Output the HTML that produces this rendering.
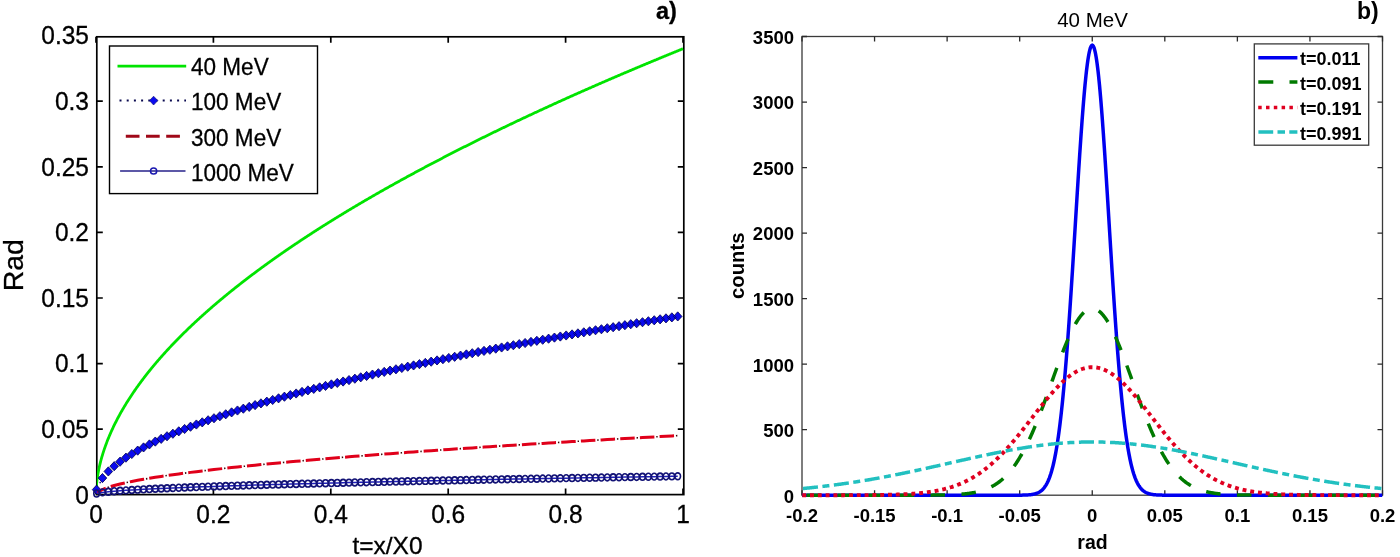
<!DOCTYPE html><html><head><meta charset="utf-8"><style>html,body{margin:0;padding:0;background:#fff;}svg{display:block;will-change:transform;}text{font-family:"Liberation Sans",sans-serif;}</style></head><body>
<svg width="1400" height="557" viewBox="0 0 1400 557">
<rect width="1400" height="557" fill="#fff"/>
<defs><clipPath id="cl"><rect x="96.8" y="36.8" width="587" height="457.8"/></clipPath>
<clipPath id="cr"><rect x="802" y="36.5" width="580.5" height="461.7"/></clipPath></defs>
<rect x="96.8" y="36.8" width="587" height="457.8" fill="none" stroke="#000" stroke-width="1.7"/>
<path d="M96,494.6v-6M96,36.8v6M213.4,494.6v-6M213.4,36.8v6M330.8,494.6v-6M330.8,36.8v6M448.2,494.6v-6M448.2,36.8v6M565.6,494.6v-6M565.6,36.8v6M683,494.6v-6M683,36.8v6M96.8,429.2h6M683.8,429.2h-6M96.8,363.6h6M683.8,363.6h-6M96.8,298h6M683.8,298h-6M96.8,232.4h6M683.8,232.4h-6M96.8,166.8h6M683.8,166.8h-6M96.8,101.2h6M683.8,101.2h-6" stroke="#000" stroke-width="1.7" fill="none"/>
<g clip-path="url(#cl)">
<path d="M96,494.8 L96.49,484.94 L96.98,480.43 L97.47,476.91 L97.96,473.89 L98.45,471.21 L98.94,468.77 L99.42,466.51 L99.91,464.4 L100.4,462.41 L100.89,460.51 L101.38,458.7 L101.87,456.97 L102.36,455.3 L102.85,453.7 L103.34,452.14 L103.83,450.63 L104.32,449.16 L104.81,447.74 L105.29,446.35 L105.78,444.99 L106.27,443.67 L106.76,442.37 L107.25,441.1 L107.74,439.86 L108.23,438.64 L108.72,437.44 L109.21,436.27 L109.7,435.11 L110.19,433.97 L110.67,432.85 L111.16,431.75 L111.65,430.67 L112.14,429.6 L112.63,428.54 L113.12,427.5 L113.61,426.48 L114.1,425.46 L114.59,424.46 L115.08,423.48 L115.57,422.5 L116.06,421.53 L116.55,420.58 L117.03,419.63 L117.52,418.7 L118.01,417.78 L118.5,416.86 L118.99,415.96 L119.48,415.06 L119.97,414.17 L120.46,413.29 L120.95,412.42 L121.44,411.56 L121.93,410.7 L122.41,409.86 L122.9,409.02 L123.39,408.18 L123.88,407.35 L124.37,406.53 L124.86,405.72 L125.35,404.91 L125.84,404.11 L126.33,403.32 L126.82,402.53 L127.31,401.75 L127.8,400.97 L128.28,400.2 L128.77,399.43 L129.26,398.67 L129.75,397.92 L130.24,397.16 L130.73,396.42 L131.22,395.68 L131.71,394.94 L132.2,394.21 L132.69,393.48 L133.18,392.76 L133.67,392.04 L134.16,391.33 L134.64,390.62 L135.13,389.92 L135.62,389.21 L136.11,388.52 L136.6,387.82 L137.09,387.14 L137.58,386.45 L138.07,385.77 L138.56,385.09 L139.05,384.42 L139.54,383.75 L140.03,383.08 L140.51,382.41 L141,381.75 L141.49,381.1 L141.98,380.44 L142.47,379.79 L142.96,379.15 L143.45,378.5 L143.94,377.86 L144.43,377.22 L144.92,376.59 L145.41,375.96 L145.9,375.33 L146.38,374.7 L146.87,374.08 L147.36,373.46 L147.85,372.84 L148.34,372.22 L148.83,371.61 L149.32,371 L149.81,370.39 L150.3,369.79 L150.79,369.19 L151.28,368.59 L151.76,367.99 L152.25,367.39 L152.74,366.8 L153.23,366.21 L153.72,365.62 L154.21,365.04 L154.7,364.46 L155.19,363.88 L155.68,363.3 L156.17,362.72 L156.66,362.15 L157.15,361.57 L157.63,361 L158.12,360.44 L158.61,359.87 L159.1,359.31 L159.59,358.75 L160.08,358.19 L160.57,357.63 L161.06,357.07 L161.55,356.52 L162.04,355.97 L162.53,355.42 L163.02,354.87 L163.5,354.32 L163.99,353.78 L164.48,353.24 L164.97,352.7 L165.46,352.16 L165.95,351.62 L166.44,351.09 L166.93,350.55 L167.42,350.02 L167.91,349.49 L168.4,348.96 L168.89,348.43 L169.38,347.91 L169.86,347.39 L170.35,346.86 L170.84,346.34 L171.33,345.82 L171.82,345.31 L172.31,344.79 L172.8,344.28 L173.29,343.77 L173.78,343.25 L174.27,342.75 L174.76,342.24 L175.25,341.73 L175.73,341.23 L176.22,340.72 L176.71,340.22 L177.2,339.72 L177.69,339.22 L178.18,338.72 L178.67,338.22 L179.16,337.73 L179.65,337.24 L180.14,336.74 L180.63,336.25 L181.12,335.76 L181.6,335.27 L182.09,334.79 L182.58,334.3 L183.07,333.82 L183.56,333.33 L184.05,332.85 L184.54,332.37 L185.03,331.89 L185.52,331.41 L186.01,330.93 L186.5,330.46 L186.99,329.98 L187.47,329.51 L187.96,329.04 L188.45,328.57 L188.94,328.1 L189.43,327.63 L189.92,327.16 L190.41,326.69 L190.9,326.23 L191.39,325.76 L191.88,325.3 L192.37,324.84 L192.86,324.38 L193.34,323.92 L193.83,323.46 L194.32,323 L194.81,322.54 L195.3,322.09 L195.79,321.63 L196.28,321.18 L196.77,320.73 L197.26,320.27 L197.75,319.82 L198.24,319.37 L198.72,318.92 L199.21,318.48 L199.7,318.03 L200.19,317.58 L200.68,317.14 L201.17,316.7 L201.66,316.25 L202.15,315.81 L202.64,315.37 L203.13,314.93 L203.62,314.49 L204.11,314.05 L204.59,313.62 L205.08,313.18 L205.57,312.75 L206.06,312.31 L206.55,311.88 L207.04,311.45 L207.53,311.01 L208.02,310.58 L208.51,310.15 L209,309.72 L209.49,309.3 L209.98,308.87 L210.47,308.44 L210.95,308.02 L211.44,307.59 L211.93,307.17 L212.42,306.75 L212.91,306.32 L213.4,305.9 L213.89,305.48 L214.38,305.06 L214.87,304.64 L215.36,304.22 L215.85,303.81 L216.33,303.39 L216.82,302.98 L217.31,302.56 L217.8,302.15 L218.29,301.73 L218.78,301.32 L219.27,300.91 L219.76,300.5 L220.25,300.09 L220.74,299.68 L221.23,299.27 L221.72,298.86 L222.2,298.45 L222.69,298.05 L223.18,297.64 L223.67,297.24 L224.16,296.83 L224.65,296.43 L225.14,296.02 L225.63,295.62 L226.12,295.22 L226.61,294.82 L227.1,294.42 L227.59,294.02 L228.08,293.62 L228.56,293.22 L229.05,292.83 L229.54,292.43 L230.03,292.03 L230.52,291.64 L231.01,291.24 L231.5,290.85 L231.99,290.46 L232.48,290.06 L232.97,289.67 L233.46,289.28 L233.94,288.89 L234.43,288.5 L234.92,288.11 L235.41,287.72 L235.9,287.33 L236.39,286.95 L236.88,286.56 L237.37,286.17 L237.86,285.79 L238.35,285.4 L238.84,285.02 L239.33,284.63 L239.81,284.25 L240.3,283.87 L240.79,283.49 L241.28,283.1 L241.77,282.72 L242.26,282.34 L242.75,281.96 L243.24,281.58 L243.73,281.21 L244.22,280.83 L244.71,280.45 L245.2,280.07 L245.69,279.7 L246.17,279.32 L246.66,278.95 L247.15,278.57 L247.64,278.2 L248.13,277.83 L248.62,277.45 L249.11,277.08 L249.6,276.71 L250.09,276.34 L250.58,275.97 L251.07,275.6 L251.56,275.23 L252.04,274.86 L252.53,274.49 L253.02,274.13 L253.51,273.76 L254,273.39 L254.49,273.03 L254.98,272.66 L255.47,272.29 L255.96,271.93 L256.45,271.57 L256.94,271.2 L257.43,270.84 L257.91,270.48 L258.4,270.12 L258.89,269.75 L259.38,269.39 L259.87,269.03 L260.36,268.67 L260.85,268.31 L261.34,267.95 L261.83,267.6 L262.32,267.24 L262.81,266.88 L263.29,266.52 L263.78,266.17 L264.27,265.81 L264.76,265.46 L265.25,265.1 L265.74,264.75 L266.23,264.39 L266.72,264.04 L267.21,263.68 L267.7,263.33 L268.19,262.98 L268.68,262.63 L269.16,262.28 L269.65,261.93 L270.14,261.58 L270.63,261.23 L271.12,260.88 L271.61,260.53 L272.1,260.18 L272.59,259.83 L273.08,259.48 L273.57,259.14 L274.06,258.79 L274.55,258.44 L275.03,258.1 L275.52,257.75 L276.01,257.41 L276.5,257.06 L276.99,256.72 L277.48,256.38 L277.97,256.03 L278.46,255.69 L278.95,255.35 L279.44,255.01 L279.93,254.66 L280.42,254.32 L280.9,253.98 L281.39,253.64 L281.88,253.3 L282.37,252.96 L282.86,252.62 L283.35,252.29 L283.84,251.95 L284.33,251.61 L284.82,251.27 L285.31,250.94 L285.8,250.6 L286.29,250.26 L286.77,249.93 L287.26,249.59 L287.75,249.26 L288.24,248.92 L288.73,248.59 L289.22,248.26 L289.71,247.92 L290.2,247.59 L290.69,247.26 L291.18,246.92 L291.67,246.59 L292.16,246.26 L292.64,245.93 L293.13,245.6 L293.62,245.27 L294.11,244.94 L294.6,244.61 L295.09,244.28 L295.58,243.95 L296.07,243.62 L296.56,243.3 L297.05,242.97 L297.54,242.64 L298.03,242.32 L298.51,241.99 L299,241.66 L299.49,241.34 L299.98,241.01 L300.47,240.69 L300.96,240.36 L301.45,240.04 L301.94,239.71 L302.43,239.39 L302.92,239.07 L303.41,238.75 L303.9,238.42 L304.38,238.1 L304.87,237.78 L305.36,237.46 L305.85,237.14 L306.34,236.82 L306.83,236.5 L307.32,236.18 L307.81,235.86 L308.3,235.54 L308.79,235.22 L309.28,234.9 L309.77,234.58 L310.25,234.26 L310.74,233.95 L311.23,233.63 L311.72,233.31 L312.21,232.99 L312.7,232.68 L313.19,232.36 L313.68,232.05 L314.17,231.73 L314.66,231.42 L315.15,231.1 L315.64,230.79 L316.12,230.47 L316.61,230.16 L317.1,229.85 L317.59,229.53 L318.08,229.22 L318.57,228.91 L319.06,228.6 L319.55,228.29 L320.04,227.98 L320.53,227.66 L321.02,227.35 L321.51,227.04 L322,226.73 L322.48,226.42 L322.97,226.11 L323.46,225.8 L323.95,225.5 L324.44,225.19 L324.93,224.88 L325.42,224.57 L325.91,224.26 L326.4,223.96 L326.89,223.65 L327.38,223.34 L327.87,223.04 L328.35,222.73 L328.84,222.42 L329.33,222.12 L329.82,221.81 L330.31,221.51 L330.8,221.21 L331.29,220.9 L331.78,220.6 L332.27,220.29 L332.76,219.99 L333.25,219.69 L333.74,219.38 L334.22,219.08 L334.71,218.78 L335.2,218.48 L335.69,218.18 L336.18,217.87 L336.67,217.57 L337.16,217.27 L337.65,216.97 L338.14,216.67 L338.63,216.37 L339.12,216.07 L339.61,215.77 L340.09,215.47 L340.58,215.18 L341.07,214.88 L341.56,214.58 L342.05,214.28 L342.54,213.98 L343.03,213.69 L343.52,213.39 L344.01,213.09 L344.5,212.8 L344.99,212.5 L345.48,212.2 L345.96,211.91 L346.45,211.61 L346.94,211.32 L347.43,211.02 L347.92,210.73 L348.41,210.43 L348.9,210.14 L349.39,209.84 L349.88,209.55 L350.37,209.26 L350.86,208.96 L351.35,208.67 L351.83,208.38 L352.32,208.09 L352.81,207.8 L353.3,207.5 L353.79,207.21 L354.28,206.92 L354.77,206.63 L355.26,206.34 L355.75,206.05 L356.24,205.76 L356.73,205.47 L357.22,205.18 L357.7,204.89 L358.19,204.6 L358.68,204.31 L359.17,204.02 L359.66,203.73 L360.15,203.45 L360.64,203.16 L361.13,202.87 L361.62,202.58 L362.11,202.3 L362.6,202.01 L363.09,201.72 L363.57,201.44 L364.06,201.15 L364.55,200.86 L365.04,200.58 L365.53,200.29 L366.02,200.01 L366.51,199.72 L367,199.44 L367.49,199.15 L367.98,198.87 L368.47,198.58 L368.96,198.3 L369.44,198.02 L369.93,197.73 L370.42,197.45 L370.91,197.17 L371.4,196.88 L371.89,196.6 L372.38,196.32 L372.87,196.04 L373.36,195.76 L373.85,195.48 L374.34,195.19 L374.82,194.91 L375.31,194.63 L375.8,194.35 L376.29,194.07 L376.78,193.79 L377.27,193.51 L377.76,193.23 L378.25,192.95 L378.74,192.67 L379.23,192.39 L379.72,192.12 L380.21,191.84 L380.69,191.56 L381.18,191.28 L381.67,191 L382.16,190.73 L382.65,190.45 L383.14,190.17 L383.63,189.89 L384.12,189.62 L384.61,189.34 L385.1,189.07 L385.59,188.79 L386.08,188.51 L386.56,188.24 L387.05,187.96 L387.54,187.69 L388.03,187.41 L388.52,187.14 L389.01,186.86 L389.5,186.59 L389.99,186.31 L390.48,186.04 L390.97,185.77 L391.46,185.49 L391.95,185.22 L392.44,184.95 L392.92,184.67 L393.41,184.4 L393.9,184.13 L394.39,183.86 L394.88,183.59 L395.37,183.31 L395.86,183.04 L396.35,182.77 L396.84,182.5 L397.33,182.23 L397.82,181.96 L398.31,181.69 L398.79,181.42 L399.28,181.15 L399.77,180.88 L400.26,180.61 L400.75,180.34 L401.24,180.07 L401.73,179.8 L402.22,179.53 L402.71,179.26 L403.2,178.99 L403.69,178.73 L404.18,178.46 L404.66,178.19 L405.15,177.92 L405.64,177.65 L406.13,177.39 L406.62,177.12 L407.11,176.85 L407.6,176.59 L408.09,176.32 L408.58,176.05 L409.07,175.79 L409.56,175.52 L410.05,175.26 L410.53,174.99 L411.02,174.72 L411.51,174.46 L412,174.19 L412.49,173.93 L412.98,173.67 L413.47,173.4 L413.96,173.14 L414.45,172.87 L414.94,172.61 L415.43,172.34 L415.92,172.08 L416.4,171.82 L416.89,171.56 L417.38,171.29 L417.87,171.03 L418.36,170.77 L418.85,170.5 L419.34,170.24 L419.83,169.98 L420.32,169.72 L420.81,169.46 L421.3,169.2 L421.79,168.93 L422.27,168.67 L422.76,168.41 L423.25,168.15 L423.74,167.89 L424.23,167.63 L424.72,167.37 L425.21,167.11 L425.7,166.85 L426.19,166.59 L426.68,166.33 L427.17,166.07 L427.65,165.81 L428.14,165.56 L428.63,165.3 L429.12,165.04 L429.61,164.78 L430.1,164.52 L430.59,164.26 L431.08,164.01 L431.57,163.75 L432.06,163.49 L432.55,163.23 L433.04,162.98 L433.52,162.72 L434.01,162.46 L434.5,162.21 L434.99,161.95 L435.48,161.69 L435.97,161.44 L436.46,161.18 L436.95,160.93 L437.44,160.67 L437.93,160.42 L438.42,160.16 L438.91,159.91 L439.39,159.65 L439.88,159.4 L440.37,159.14 L440.86,158.89 L441.35,158.63 L441.84,158.38 L442.33,158.13 L442.82,157.87 L443.31,157.62 L443.8,157.37 L444.29,157.11 L444.78,156.86 L445.26,156.61 L445.75,156.35 L446.24,156.1 L446.73,155.85 L447.22,155.6 L447.71,155.34 L448.2,155.09 L448.69,154.84 L449.18,154.59 L449.67,154.34 L450.16,154.09 L450.65,153.84 L451.13,153.59 L451.62,153.33 L452.11,153.08 L452.6,152.83 L453.09,152.58 L453.58,152.33 L454.07,152.08 L454.56,151.83 L455.05,151.58 L455.54,151.33 L456.03,151.09 L456.52,150.84 L457,150.59 L457.49,150.34 L457.98,150.09 L458.47,149.84 L458.96,149.59 L459.45,149.35 L459.94,149.1 L460.43,148.85 L460.92,148.6 L461.41,148.35 L461.9,148.11 L462.39,147.86 L462.88,147.61 L463.36,147.37 L463.85,147.12 L464.34,146.87 L464.83,146.63 L465.32,146.38 L465.81,146.13 L466.3,145.89 L466.79,145.64 L467.28,145.4 L467.77,145.15 L468.26,144.91 L468.75,144.66 L469.23,144.41 L469.72,144.17 L470.21,143.93 L470.7,143.68 L471.19,143.44 L471.68,143.19 L472.17,142.95 L472.66,142.7 L473.15,142.46 L473.64,142.22 L474.13,141.97 L474.62,141.73 L475.1,141.49 L475.59,141.24 L476.08,141 L476.57,140.76 L477.06,140.51 L477.55,140.27 L478.04,140.03 L478.53,139.79 L479.02,139.54 L479.51,139.3 L480,139.06 L480.49,138.82 L480.97,138.58 L481.46,138.34 L481.95,138.09 L482.44,137.85 L482.93,137.61 L483.42,137.37 L483.91,137.13 L484.4,136.89 L484.89,136.65 L485.38,136.41 L485.87,136.17 L486.36,135.93 L486.84,135.69 L487.33,135.45 L487.82,135.21 L488.31,134.97 L488.8,134.73 L489.29,134.49 L489.78,134.25 L490.27,134.02 L490.76,133.78 L491.25,133.54 L491.74,133.3 L492.23,133.06 L492.71,132.82 L493.2,132.59 L493.69,132.35 L494.18,132.11 L494.67,131.87 L495.16,131.63 L495.65,131.4 L496.14,131.16 L496.63,130.92 L497.12,130.69 L497.61,130.45 L498.1,130.21 L498.58,129.98 L499.07,129.74 L499.56,129.5 L500.05,129.27 L500.54,129.03 L501.03,128.8 L501.52,128.56 L502.01,128.32 L502.5,128.09 L502.99,127.85 L503.48,127.62 L503.96,127.38 L504.45,127.15 L504.94,126.91 L505.43,126.68 L505.92,126.44 L506.41,126.21 L506.9,125.98 L507.39,125.74 L507.88,125.51 L508.37,125.27 L508.86,125.04 L509.35,124.81 L509.83,124.57 L510.32,124.34 L510.81,124.11 L511.3,123.87 L511.79,123.64 L512.28,123.41 L512.77,123.17 L513.26,122.94 L513.75,122.71 L514.24,122.48 L514.73,122.24 L515.22,122.01 L515.7,121.78 L516.19,121.55 L516.68,121.32 L517.17,121.09 L517.66,120.85 L518.15,120.62 L518.64,120.39 L519.13,120.16 L519.62,119.93 L520.11,119.7 L520.6,119.47 L521.09,119.24 L521.58,119.01 L522.06,118.78 L522.55,118.55 L523.04,118.32 L523.53,118.09 L524.02,117.86 L524.51,117.63 L525,117.4 L525.49,117.17 L525.98,116.94 L526.47,116.71 L526.96,116.48 L527.44,116.25 L527.93,116.02 L528.42,115.79 L528.91,115.57 L529.4,115.34 L529.89,115.11 L530.38,114.88 L530.87,114.65 L531.36,114.42 L531.85,114.2 L532.34,113.97 L532.83,113.74 L533.32,113.51 L533.8,113.29 L534.29,113.06 L534.78,112.83 L535.27,112.6 L535.76,112.38 L536.25,112.15 L536.74,111.92 L537.23,111.7 L537.72,111.47 L538.21,111.24 L538.7,111.02 L539.18,110.79 L539.67,110.57 L540.16,110.34 L540.65,110.11 L541.14,109.89 L541.63,109.66 L542.12,109.44 L542.61,109.21 L543.1,108.99 L543.59,108.76 L544.08,108.54 L544.57,108.31 L545.06,108.09 L545.54,107.86 L546.03,107.64 L546.52,107.41 L547.01,107.19 L547.5,106.97 L547.99,106.74 L548.48,106.52 L548.97,106.29 L549.46,106.07 L549.95,105.85 L550.44,105.62 L550.92,105.4 L551.41,105.18 L551.9,104.95 L552.39,104.73 L552.88,104.51 L553.37,104.29 L553.86,104.06 L554.35,103.84 L554.84,103.62 L555.33,103.4 L555.82,103.17 L556.31,102.95 L556.8,102.73 L557.28,102.51 L557.77,102.29 L558.26,102.06 L558.75,101.84 L559.24,101.62 L559.73,101.4 L560.22,101.18 L560.71,100.96 L561.2,100.74 L561.69,100.52 L562.18,100.29 L562.66,100.07 L563.15,99.85 L563.64,99.63 L564.13,99.41 L564.62,99.19 L565.11,98.97 L565.6,98.75 L566.09,98.53 L566.58,98.31 L567.07,98.09 L567.56,97.87 L568.05,97.65 L568.54,97.43 L569.02,97.21 L569.51,97 L570,96.78 L570.49,96.56 L570.98,96.34 L571.47,96.12 L571.96,95.9 L572.45,95.68 L572.94,95.46 L573.43,95.25 L573.92,95.03 L574.4,94.81 L574.89,94.59 L575.38,94.37 L575.87,94.16 L576.36,93.94 L576.85,93.72 L577.34,93.5 L577.83,93.29 L578.32,93.07 L578.81,92.85 L579.3,92.63 L579.79,92.42 L580.27,92.2 L580.76,91.98 L581.25,91.77 L581.74,91.55 L582.23,91.33 L582.72,91.12 L583.21,90.9 L583.7,90.68 L584.19,90.47 L584.68,90.25 L585.17,90.04 L585.66,89.82 L586.14,89.61 L586.63,89.39 L587.12,89.17 L587.61,88.96 L588.1,88.74 L588.59,88.53 L589.08,88.31 L589.57,88.1 L590.06,87.88 L590.55,87.67 L591.04,87.45 L591.53,87.24 L592.01,87.02 L592.5,86.81 L592.99,86.6 L593.48,86.38 L593.97,86.17 L594.46,85.95 L594.95,85.74 L595.44,85.53 L595.93,85.31 L596.42,85.1 L596.91,84.89 L597.4,84.67 L597.88,84.46 L598.37,84.25 L598.86,84.03 L599.35,83.82 L599.84,83.61 L600.33,83.39 L600.82,83.18 L601.31,82.97 L601.8,82.76 L602.29,82.54 L602.78,82.33 L603.27,82.12 L603.75,81.91 L604.24,81.7 L604.73,81.48 L605.22,81.27 L605.71,81.06 L606.2,80.85 L606.69,80.64 L607.18,80.42 L607.67,80.21 L608.16,80 L608.65,79.79 L609.14,79.58 L609.62,79.37 L610.11,79.16 L610.6,78.95 L611.09,78.74 L611.58,78.53 L612.07,78.32 L612.56,78.11 L613.05,77.89 L613.54,77.68 L614.03,77.47 L614.52,77.26 L615.01,77.05 L615.5,76.84 L615.98,76.63 L616.47,76.43 L616.96,76.22 L617.45,76.01 L617.94,75.8 L618.43,75.59 L618.92,75.38 L619.41,75.17 L619.9,74.96 L620.39,74.75 L620.88,74.54 L621.37,74.33 L621.85,74.12 L622.34,73.92 L622.83,73.71 L623.32,73.5 L623.81,73.29 L624.3,73.08 L624.79,72.87 L625.28,72.67 L625.77,72.46 L626.26,72.25 L626.75,72.04 L627.24,71.84 L627.72,71.63 L628.21,71.42 L628.7,71.21 L629.19,71.01 L629.68,70.8 L630.17,70.59 L630.66,70.38 L631.15,70.18 L631.64,69.97 L632.13,69.76 L632.62,69.56 L633.11,69.35 L633.59,69.14 L634.08,68.94 L634.57,68.73 L635.06,68.52 L635.55,68.32 L636.04,68.11 L636.53,67.91 L637.02,67.7 L637.51,67.49 L638,67.29 L638.49,67.08 L638.98,66.88 L639.46,66.67 L639.95,66.47 L640.44,66.26 L640.93,66.06 L641.42,65.85 L641.91,65.65 L642.4,65.44 L642.89,65.24 L643.38,65.03 L643.87,64.83 L644.36,64.62 L644.85,64.42 L645.33,64.21 L645.82,64.01 L646.31,63.8 L646.8,63.6 L647.29,63.4 L647.78,63.19 L648.27,62.99 L648.76,62.78 L649.25,62.58 L649.74,62.38 L650.23,62.17 L650.71,61.97 L651.2,61.77 L651.69,61.56 L652.18,61.36 L652.67,61.16 L653.16,60.95 L653.65,60.75 L654.14,60.55 L654.63,60.35 L655.12,60.14 L655.61,59.94 L656.1,59.74 L656.58,59.53 L657.07,59.33 L657.56,59.13 L658.05,58.93 L658.54,58.73 L659.03,58.52 L659.52,58.32 L660.01,58.12 L660.5,57.92 L660.99,57.72 L661.48,57.51 L661.97,57.31 L662.45,57.11 L662.94,56.91 L663.43,56.71 L663.92,56.51 L664.41,56.31 L664.9,56.1 L665.39,55.9 L665.88,55.7 L666.37,55.5 L666.86,55.3 L667.35,55.1 L667.84,54.9 L668.32,54.7 L668.81,54.5 L669.3,54.3 L669.79,54.1 L670.28,53.9 L670.77,53.7 L671.26,53.5 L671.75,53.3 L672.24,53.1 L672.73,52.9 L673.22,52.7 L673.71,52.5 L674.19,52.3 L674.68,52.1 L675.17,51.9 L675.66,51.7 L676.15,51.5 L676.64,51.3 L677.13,51.1 L677.62,50.9 L678.11,50.71 L678.6,50.51 L679.09,50.31 L679.58,50.11 L680.06,49.91 L680.55,49.71 L681.04,49.51 L681.53,49.31 L682.02,49.12 L682.51,48.92 L683,48.72" fill="none" stroke="#00e400" stroke-width="2.8"/>
<path d="M96.59,489.64 L102.46,478.07 L108.33,471.44 L114.2,466.19 L120.07,461.68 L125.94,457.66 L131.81,454 L137.68,450.61 L143.55,447.43 L149.42,444.43 L155.29,441.58 L161.16,438.86 L167.03,436.26 L172.9,433.75 L178.77,431.33 L184.64,428.99 L190.51,426.72 L196.38,424.51 L202.25,422.37 L208.12,420.28 L213.99,418.24 L219.86,416.25 L225.73,414.3 L231.6,412.39 L237.47,410.52 L243.34,408.68 L249.21,406.88 L255.08,405.11 L260.95,403.38 L266.82,401.67 L272.69,399.98 L278.56,398.33 L284.43,396.7 L290.3,395.09 L296.17,393.5 L302.04,391.94 L307.91,390.4 L313.78,388.87 L319.65,387.37 L325.52,385.88 L331.39,384.42 L337.26,382.97 L343.13,381.53 L349,380.11 L354.87,378.71 L360.74,377.32 L366.61,375.95 L372.48,374.59 L378.35,373.24 L384.22,371.91 L390.09,370.58 L395.96,369.28 L401.83,367.98 L407.7,366.69 L413.57,365.42 L419.44,364.16 L425.31,362.9 L431.18,361.66 L437.05,360.43 L442.92,359.21 L448.79,358 L454.66,356.79 L460.53,355.6 L466.4,354.42 L472.27,353.24 L478.14,352.07 L484.01,350.91 L489.88,349.76 L495.75,348.62 L501.62,347.49 L507.49,346.36 L513.36,345.24 L519.23,344.13 L525.1,343.02 L530.97,341.92 L536.84,340.83 L542.71,339.75 L548.58,338.67 L554.45,337.6 L560.32,336.53 L566.19,335.48 L572.06,334.42 L577.93,333.38 L583.8,332.34 L589.67,331.3 L595.54,330.27 L601.41,329.25 L607.28,328.23 L613.15,327.22 L619.02,326.21 L624.89,325.21 L630.76,324.22 L636.63,323.23 L642.5,322.24 L648.37,321.26 L654.24,320.28 L660.11,319.31 L665.98,318.35 L671.85,317.38 L677.72,316.43" fill="none" stroke="#10108a" stroke-width="1.5" stroke-dasharray="1.5 5.7"/>
</g>
<path d="M96.59,485.04l4.3,4.6l-4.3,4.6l-4.3,-4.6zM102.46,473.47l4.3,4.6l-4.3,4.6l-4.3,-4.6zM108.33,466.84l4.3,4.6l-4.3,4.6l-4.3,-4.6zM114.2,461.59l4.3,4.6l-4.3,4.6l-4.3,-4.6zM120.07,457.08l4.3,4.6l-4.3,4.6l-4.3,-4.6zM125.94,453.06l4.3,4.6l-4.3,4.6l-4.3,-4.6zM131.81,449.4l4.3,4.6l-4.3,4.6l-4.3,-4.6zM137.68,446.01l4.3,4.6l-4.3,4.6l-4.3,-4.6zM143.55,442.83l4.3,4.6l-4.3,4.6l-4.3,-4.6zM149.42,439.83l4.3,4.6l-4.3,4.6l-4.3,-4.6zM155.29,436.98l4.3,4.6l-4.3,4.6l-4.3,-4.6zM161.16,434.26l4.3,4.6l-4.3,4.6l-4.3,-4.6zM167.03,431.66l4.3,4.6l-4.3,4.6l-4.3,-4.6zM172.9,429.15l4.3,4.6l-4.3,4.6l-4.3,-4.6zM178.77,426.73l4.3,4.6l-4.3,4.6l-4.3,-4.6zM184.64,424.39l4.3,4.6l-4.3,4.6l-4.3,-4.6zM190.51,422.12l4.3,4.6l-4.3,4.6l-4.3,-4.6zM196.38,419.91l4.3,4.6l-4.3,4.6l-4.3,-4.6zM202.25,417.77l4.3,4.6l-4.3,4.6l-4.3,-4.6zM208.12,415.68l4.3,4.6l-4.3,4.6l-4.3,-4.6zM213.99,413.64l4.3,4.6l-4.3,4.6l-4.3,-4.6zM219.86,411.65l4.3,4.6l-4.3,4.6l-4.3,-4.6zM225.73,409.7l4.3,4.6l-4.3,4.6l-4.3,-4.6zM231.6,407.79l4.3,4.6l-4.3,4.6l-4.3,-4.6zM237.47,405.92l4.3,4.6l-4.3,4.6l-4.3,-4.6zM243.34,404.08l4.3,4.6l-4.3,4.6l-4.3,-4.6zM249.21,402.28l4.3,4.6l-4.3,4.6l-4.3,-4.6zM255.08,400.51l4.3,4.6l-4.3,4.6l-4.3,-4.6zM260.95,398.78l4.3,4.6l-4.3,4.6l-4.3,-4.6zM266.82,397.07l4.3,4.6l-4.3,4.6l-4.3,-4.6zM272.69,395.38l4.3,4.6l-4.3,4.6l-4.3,-4.6zM278.56,393.73l4.3,4.6l-4.3,4.6l-4.3,-4.6zM284.43,392.1l4.3,4.6l-4.3,4.6l-4.3,-4.6zM290.3,390.49l4.3,4.6l-4.3,4.6l-4.3,-4.6zM296.17,388.9l4.3,4.6l-4.3,4.6l-4.3,-4.6zM302.04,387.34l4.3,4.6l-4.3,4.6l-4.3,-4.6zM307.91,385.8l4.3,4.6l-4.3,4.6l-4.3,-4.6zM313.78,384.27l4.3,4.6l-4.3,4.6l-4.3,-4.6zM319.65,382.77l4.3,4.6l-4.3,4.6l-4.3,-4.6zM325.52,381.28l4.3,4.6l-4.3,4.6l-4.3,-4.6zM331.39,379.82l4.3,4.6l-4.3,4.6l-4.3,-4.6zM337.26,378.37l4.3,4.6l-4.3,4.6l-4.3,-4.6zM343.13,376.93l4.3,4.6l-4.3,4.6l-4.3,-4.6zM349,375.51l4.3,4.6l-4.3,4.6l-4.3,-4.6zM354.87,374.11l4.3,4.6l-4.3,4.6l-4.3,-4.6zM360.74,372.72l4.3,4.6l-4.3,4.6l-4.3,-4.6zM366.61,371.35l4.3,4.6l-4.3,4.6l-4.3,-4.6zM372.48,369.99l4.3,4.6l-4.3,4.6l-4.3,-4.6zM378.35,368.64l4.3,4.6l-4.3,4.6l-4.3,-4.6zM384.22,367.31l4.3,4.6l-4.3,4.6l-4.3,-4.6zM390.09,365.98l4.3,4.6l-4.3,4.6l-4.3,-4.6zM395.96,364.68l4.3,4.6l-4.3,4.6l-4.3,-4.6zM401.83,363.38l4.3,4.6l-4.3,4.6l-4.3,-4.6zM407.7,362.09l4.3,4.6l-4.3,4.6l-4.3,-4.6zM413.57,360.82l4.3,4.6l-4.3,4.6l-4.3,-4.6zM419.44,359.56l4.3,4.6l-4.3,4.6l-4.3,-4.6zM425.31,358.3l4.3,4.6l-4.3,4.6l-4.3,-4.6zM431.18,357.06l4.3,4.6l-4.3,4.6l-4.3,-4.6zM437.05,355.83l4.3,4.6l-4.3,4.6l-4.3,-4.6zM442.92,354.61l4.3,4.6l-4.3,4.6l-4.3,-4.6zM448.79,353.4l4.3,4.6l-4.3,4.6l-4.3,-4.6zM454.66,352.19l4.3,4.6l-4.3,4.6l-4.3,-4.6zM460.53,351l4.3,4.6l-4.3,4.6l-4.3,-4.6zM466.4,349.82l4.3,4.6l-4.3,4.6l-4.3,-4.6zM472.27,348.64l4.3,4.6l-4.3,4.6l-4.3,-4.6zM478.14,347.47l4.3,4.6l-4.3,4.6l-4.3,-4.6zM484.01,346.31l4.3,4.6l-4.3,4.6l-4.3,-4.6zM489.88,345.16l4.3,4.6l-4.3,4.6l-4.3,-4.6zM495.75,344.02l4.3,4.6l-4.3,4.6l-4.3,-4.6zM501.62,342.89l4.3,4.6l-4.3,4.6l-4.3,-4.6zM507.49,341.76l4.3,4.6l-4.3,4.6l-4.3,-4.6zM513.36,340.64l4.3,4.6l-4.3,4.6l-4.3,-4.6zM519.23,339.53l4.3,4.6l-4.3,4.6l-4.3,-4.6zM525.1,338.42l4.3,4.6l-4.3,4.6l-4.3,-4.6zM530.97,337.32l4.3,4.6l-4.3,4.6l-4.3,-4.6zM536.84,336.23l4.3,4.6l-4.3,4.6l-4.3,-4.6zM542.71,335.15l4.3,4.6l-4.3,4.6l-4.3,-4.6zM548.58,334.07l4.3,4.6l-4.3,4.6l-4.3,-4.6zM554.45,333l4.3,4.6l-4.3,4.6l-4.3,-4.6zM560.32,331.93l4.3,4.6l-4.3,4.6l-4.3,-4.6zM566.19,330.88l4.3,4.6l-4.3,4.6l-4.3,-4.6zM572.06,329.82l4.3,4.6l-4.3,4.6l-4.3,-4.6zM577.93,328.78l4.3,4.6l-4.3,4.6l-4.3,-4.6zM583.8,327.74l4.3,4.6l-4.3,4.6l-4.3,-4.6zM589.67,326.7l4.3,4.6l-4.3,4.6l-4.3,-4.6zM595.54,325.67l4.3,4.6l-4.3,4.6l-4.3,-4.6zM601.41,324.65l4.3,4.6l-4.3,4.6l-4.3,-4.6zM607.28,323.63l4.3,4.6l-4.3,4.6l-4.3,-4.6zM613.15,322.62l4.3,4.6l-4.3,4.6l-4.3,-4.6zM619.02,321.61l4.3,4.6l-4.3,4.6l-4.3,-4.6zM624.89,320.61l4.3,4.6l-4.3,4.6l-4.3,-4.6zM630.76,319.62l4.3,4.6l-4.3,4.6l-4.3,-4.6zM636.63,318.63l4.3,4.6l-4.3,4.6l-4.3,-4.6zM642.5,317.64l4.3,4.6l-4.3,4.6l-4.3,-4.6zM648.37,316.66l4.3,4.6l-4.3,4.6l-4.3,-4.6zM654.24,315.68l4.3,4.6l-4.3,4.6l-4.3,-4.6zM660.11,314.71l4.3,4.6l-4.3,4.6l-4.3,-4.6zM665.98,313.75l4.3,4.6l-4.3,4.6l-4.3,-4.6zM671.85,312.78l4.3,4.6l-4.3,4.6l-4.3,-4.6zM677.72,311.83l4.3,4.6l-4.3,4.6l-4.3,-4.6z" fill="#0a0aee" stroke="#000050" stroke-width="0.8"/>
<g clip-path="url(#cl)">
<path d="M96.59,493.35 L102.46,489.49 L108.33,487.28 L114.2,485.53 L120.07,484.03 L125.94,482.69 L131.81,481.47 L137.68,480.34 L143.55,479.28 L149.42,478.28 L155.29,477.33 L161.16,476.42 L167.03,475.55 L172.9,474.72 L178.77,473.91 L184.64,473.13 L190.51,472.37 L196.38,471.64 L202.25,470.92 L208.12,470.23 L213.99,469.55 L219.86,468.88 L225.73,468.23 L231.6,467.6 L237.47,466.97 L243.34,466.36 L249.21,465.76 L255.08,465.17 L260.95,464.59 L266.82,464.02 L272.69,463.46 L278.56,462.91 L284.43,462.37 L290.3,461.83 L296.17,461.3 L302.04,460.78 L307.91,460.27 L313.78,459.76 L319.65,459.26 L325.52,458.76 L331.39,458.27 L337.26,457.79 L343.13,457.31 L349,456.84 L354.87,456.37 L360.74,455.91 L366.61,455.45 L372.48,455 L378.35,454.55 L384.22,454.1 L390.09,453.66 L395.96,453.23 L401.83,452.79 L407.7,452.36 L413.57,451.94 L419.44,451.52 L425.31,451.1 L431.18,450.69 L437.05,450.28 L442.92,449.87 L448.79,449.47 L454.66,449.06 L460.53,448.67 L466.4,448.27 L472.27,447.88 L478.14,447.49 L484.01,447.1 L489.88,446.72 L495.75,446.34 L501.62,445.96 L507.49,445.59 L513.36,445.21 L519.23,444.84 L525.1,444.47 L530.97,444.11 L536.84,443.74 L542.71,443.38 L548.58,443.02 L554.45,442.67 L560.32,442.31 L566.19,441.96 L572.06,441.61 L577.93,441.26 L583.8,440.91 L589.67,440.57 L595.54,440.22 L601.41,439.88 L607.28,439.54 L613.15,439.21 L619.02,438.87 L624.89,438.54 L630.76,438.21 L636.63,437.88 L642.5,437.55 L648.37,437.22 L654.24,436.89 L660.11,436.57 L665.98,436.25 L671.85,435.93 L677.72,435.61" fill="none" stroke="#e0001a" stroke-width="3" stroke-dasharray="14.5 5.2" stroke-dashoffset="3.89"/>
<path d="M96.59,493.35 L102.46,489.49 L108.33,487.28 L114.2,485.53 L120.07,484.03 L125.94,482.69 L131.81,481.47 L137.68,480.34 L143.55,479.28 L149.42,478.28 L155.29,477.33 L161.16,476.42 L167.03,475.55 L172.9,474.72 L178.77,473.91 L184.64,473.13 L190.51,472.37 L196.38,471.64 L202.25,470.92 L208.12,470.23 L213.99,469.55 L219.86,468.88 L225.73,468.23 L231.6,467.6 L237.47,466.97 L243.34,466.36 L249.21,465.76 L255.08,465.17 L260.95,464.59 L266.82,464.02 L272.69,463.46 L278.56,462.91 L284.43,462.37 L290.3,461.83 L296.17,461.3 L302.04,460.78 L307.91,460.27 L313.78,459.76 L319.65,459.26 L325.52,458.76 L331.39,458.27 L337.26,457.79 L343.13,457.31 L349,456.84 L354.87,456.37 L360.74,455.91 L366.61,455.45 L372.48,455 L378.35,454.55 L384.22,454.1 L390.09,453.66 L395.96,453.23 L401.83,452.79 L407.7,452.36 L413.57,451.94 L419.44,451.52 L425.31,451.1 L431.18,450.69 L437.05,450.28 L442.92,449.87 L448.79,449.47 L454.66,449.06 L460.53,448.67 L466.4,448.27 L472.27,447.88 L478.14,447.49 L484.01,447.1 L489.88,446.72 L495.75,446.34 L501.62,445.96 L507.49,445.59 L513.36,445.21 L519.23,444.84 L525.1,444.47 L530.97,444.11 L536.84,443.74 L542.71,443.38 L548.58,443.02 L554.45,442.67 L560.32,442.31 L566.19,441.96 L572.06,441.61 L577.93,441.26 L583.8,440.91 L589.67,440.57 L595.54,440.22 L601.41,439.88 L607.28,439.54 L613.15,439.21 L619.02,438.87 L624.89,438.54 L630.76,438.21 L636.63,437.88 L642.5,437.55 L648.37,437.22 L654.24,436.89 L660.11,436.57 L665.98,436.25 L671.85,435.93 L677.72,435.61" fill="none" stroke="#3a0808" stroke-width="1.6" stroke-dasharray="1.4 18.3" stroke-dashoffset="7.19"/>
<path d="M96.59,493.56 L102.46,492.41 L108.33,491.74 L114.2,491.22 L120.07,490.77 L125.94,490.37 L131.81,490 L137.68,489.66 L143.55,489.34 L149.42,489.04 L155.29,488.76 L161.16,488.49 L167.03,488.23 L172.9,487.98 L178.77,487.73 L184.64,487.5 L190.51,487.27 L196.38,487.05 L202.25,486.84 L208.12,486.63 L213.99,486.42 L219.86,486.22 L225.73,486.03 L231.6,485.84 L237.47,485.65 L243.34,485.47 L249.21,485.29 L255.08,485.11 L260.95,484.94 L266.82,484.77 L272.69,484.6 L278.56,484.43 L284.43,484.27 L290.3,484.11 L296.17,483.95 L302.04,483.79 L307.91,483.64 L313.78,483.49 L319.65,483.34 L325.52,483.19 L331.39,483.04 L337.26,482.9 L343.13,482.75 L349,482.61 L354.87,482.47 L360.74,482.33 L366.61,482.19 L372.48,482.06 L378.35,481.92 L384.22,481.79 L390.09,481.66 L395.96,481.53 L401.83,481.4 L407.7,481.27 L413.57,481.14 L419.44,481.02 L425.31,480.89 L431.18,480.77 L437.05,480.64 L442.92,480.52 L448.79,480.4 L454.66,480.28 L460.53,480.16 L466.4,480.04 L472.27,479.92 L478.14,479.81 L484.01,479.69 L489.88,479.58 L495.75,479.46 L501.62,479.35 L507.49,479.24 L513.36,479.12 L519.23,479.01 L525.1,478.9 L530.97,478.79 L536.84,478.68 L542.71,478.57 L548.58,478.47 L554.45,478.36 L560.32,478.25 L566.19,478.15 L572.06,478.04 L577.93,477.94 L583.8,477.83 L589.67,477.73 L595.54,477.63 L601.41,477.53 L607.28,477.42 L613.15,477.32 L619.02,477.22 L624.89,477.12 L630.76,477.02 L636.63,476.92 L642.5,476.82 L648.37,476.73 L654.24,476.63 L660.11,476.53 L665.98,476.43 L671.85,476.34 L677.72,476.24" fill="none" stroke="#2020b8" stroke-width="1.5"/>
</g>
<path d="M93.79,493.56a2.8,3.4 0 1,0 5.6,0a2.8,3.4 0 1,0 -5.6,0M99.66,492.41a2.8,3.4 0 1,0 5.6,0a2.8,3.4 0 1,0 -5.6,0M105.53,491.74a2.8,3.4 0 1,0 5.6,0a2.8,3.4 0 1,0 -5.6,0M111.4,491.22a2.8,3.4 0 1,0 5.6,0a2.8,3.4 0 1,0 -5.6,0M117.27,490.77a2.8,3.4 0 1,0 5.6,0a2.8,3.4 0 1,0 -5.6,0M123.14,490.37a2.8,3.4 0 1,0 5.6,0a2.8,3.4 0 1,0 -5.6,0M129.01,490a2.8,3.4 0 1,0 5.6,0a2.8,3.4 0 1,0 -5.6,0M134.88,489.66a2.8,3.4 0 1,0 5.6,0a2.8,3.4 0 1,0 -5.6,0M140.75,489.34a2.8,3.4 0 1,0 5.6,0a2.8,3.4 0 1,0 -5.6,0M146.62,489.04a2.8,3.4 0 1,0 5.6,0a2.8,3.4 0 1,0 -5.6,0M152.49,488.76a2.8,3.4 0 1,0 5.6,0a2.8,3.4 0 1,0 -5.6,0M158.36,488.49a2.8,3.4 0 1,0 5.6,0a2.8,3.4 0 1,0 -5.6,0M164.23,488.23a2.8,3.4 0 1,0 5.6,0a2.8,3.4 0 1,0 -5.6,0M170.1,487.98a2.8,3.4 0 1,0 5.6,0a2.8,3.4 0 1,0 -5.6,0M175.97,487.73a2.8,3.4 0 1,0 5.6,0a2.8,3.4 0 1,0 -5.6,0M181.84,487.5a2.8,3.4 0 1,0 5.6,0a2.8,3.4 0 1,0 -5.6,0M187.71,487.27a2.8,3.4 0 1,0 5.6,0a2.8,3.4 0 1,0 -5.6,0M193.58,487.05a2.8,3.4 0 1,0 5.6,0a2.8,3.4 0 1,0 -5.6,0M199.45,486.84a2.8,3.4 0 1,0 5.6,0a2.8,3.4 0 1,0 -5.6,0M205.32,486.63a2.8,3.4 0 1,0 5.6,0a2.8,3.4 0 1,0 -5.6,0M211.19,486.42a2.8,3.4 0 1,0 5.6,0a2.8,3.4 0 1,0 -5.6,0M217.06,486.22a2.8,3.4 0 1,0 5.6,0a2.8,3.4 0 1,0 -5.6,0M222.93,486.03a2.8,3.4 0 1,0 5.6,0a2.8,3.4 0 1,0 -5.6,0M228.8,485.84a2.8,3.4 0 1,0 5.6,0a2.8,3.4 0 1,0 -5.6,0M234.67,485.65a2.8,3.4 0 1,0 5.6,0a2.8,3.4 0 1,0 -5.6,0M240.54,485.47a2.8,3.4 0 1,0 5.6,0a2.8,3.4 0 1,0 -5.6,0M246.41,485.29a2.8,3.4 0 1,0 5.6,0a2.8,3.4 0 1,0 -5.6,0M252.28,485.11a2.8,3.4 0 1,0 5.6,0a2.8,3.4 0 1,0 -5.6,0M258.15,484.94a2.8,3.4 0 1,0 5.6,0a2.8,3.4 0 1,0 -5.6,0M264.02,484.77a2.8,3.4 0 1,0 5.6,0a2.8,3.4 0 1,0 -5.6,0M269.89,484.6a2.8,3.4 0 1,0 5.6,0a2.8,3.4 0 1,0 -5.6,0M275.76,484.43a2.8,3.4 0 1,0 5.6,0a2.8,3.4 0 1,0 -5.6,0M281.63,484.27a2.8,3.4 0 1,0 5.6,0a2.8,3.4 0 1,0 -5.6,0M287.5,484.11a2.8,3.4 0 1,0 5.6,0a2.8,3.4 0 1,0 -5.6,0M293.37,483.95a2.8,3.4 0 1,0 5.6,0a2.8,3.4 0 1,0 -5.6,0M299.24,483.79a2.8,3.4 0 1,0 5.6,0a2.8,3.4 0 1,0 -5.6,0M305.11,483.64a2.8,3.4 0 1,0 5.6,0a2.8,3.4 0 1,0 -5.6,0M310.98,483.49a2.8,3.4 0 1,0 5.6,0a2.8,3.4 0 1,0 -5.6,0M316.85,483.34a2.8,3.4 0 1,0 5.6,0a2.8,3.4 0 1,0 -5.6,0M322.72,483.19a2.8,3.4 0 1,0 5.6,0a2.8,3.4 0 1,0 -5.6,0M328.59,483.04a2.8,3.4 0 1,0 5.6,0a2.8,3.4 0 1,0 -5.6,0M334.46,482.9a2.8,3.4 0 1,0 5.6,0a2.8,3.4 0 1,0 -5.6,0M340.33,482.75a2.8,3.4 0 1,0 5.6,0a2.8,3.4 0 1,0 -5.6,0M346.2,482.61a2.8,3.4 0 1,0 5.6,0a2.8,3.4 0 1,0 -5.6,0M352.07,482.47a2.8,3.4 0 1,0 5.6,0a2.8,3.4 0 1,0 -5.6,0M357.94,482.33a2.8,3.4 0 1,0 5.6,0a2.8,3.4 0 1,0 -5.6,0M363.81,482.19a2.8,3.4 0 1,0 5.6,0a2.8,3.4 0 1,0 -5.6,0M369.68,482.06a2.8,3.4 0 1,0 5.6,0a2.8,3.4 0 1,0 -5.6,0M375.55,481.92a2.8,3.4 0 1,0 5.6,0a2.8,3.4 0 1,0 -5.6,0M381.42,481.79a2.8,3.4 0 1,0 5.6,0a2.8,3.4 0 1,0 -5.6,0M387.29,481.66a2.8,3.4 0 1,0 5.6,0a2.8,3.4 0 1,0 -5.6,0M393.16,481.53a2.8,3.4 0 1,0 5.6,0a2.8,3.4 0 1,0 -5.6,0M399.03,481.4a2.8,3.4 0 1,0 5.6,0a2.8,3.4 0 1,0 -5.6,0M404.9,481.27a2.8,3.4 0 1,0 5.6,0a2.8,3.4 0 1,0 -5.6,0M410.77,481.14a2.8,3.4 0 1,0 5.6,0a2.8,3.4 0 1,0 -5.6,0M416.64,481.02a2.8,3.4 0 1,0 5.6,0a2.8,3.4 0 1,0 -5.6,0M422.51,480.89a2.8,3.4 0 1,0 5.6,0a2.8,3.4 0 1,0 -5.6,0M428.38,480.77a2.8,3.4 0 1,0 5.6,0a2.8,3.4 0 1,0 -5.6,0M434.25,480.64a2.8,3.4 0 1,0 5.6,0a2.8,3.4 0 1,0 -5.6,0M440.12,480.52a2.8,3.4 0 1,0 5.6,0a2.8,3.4 0 1,0 -5.6,0M445.99,480.4a2.8,3.4 0 1,0 5.6,0a2.8,3.4 0 1,0 -5.6,0M451.86,480.28a2.8,3.4 0 1,0 5.6,0a2.8,3.4 0 1,0 -5.6,0M457.73,480.16a2.8,3.4 0 1,0 5.6,0a2.8,3.4 0 1,0 -5.6,0M463.6,480.04a2.8,3.4 0 1,0 5.6,0a2.8,3.4 0 1,0 -5.6,0M469.47,479.92a2.8,3.4 0 1,0 5.6,0a2.8,3.4 0 1,0 -5.6,0M475.34,479.81a2.8,3.4 0 1,0 5.6,0a2.8,3.4 0 1,0 -5.6,0M481.21,479.69a2.8,3.4 0 1,0 5.6,0a2.8,3.4 0 1,0 -5.6,0M487.08,479.58a2.8,3.4 0 1,0 5.6,0a2.8,3.4 0 1,0 -5.6,0M492.95,479.46a2.8,3.4 0 1,0 5.6,0a2.8,3.4 0 1,0 -5.6,0M498.82,479.35a2.8,3.4 0 1,0 5.6,0a2.8,3.4 0 1,0 -5.6,0M504.69,479.24a2.8,3.4 0 1,0 5.6,0a2.8,3.4 0 1,0 -5.6,0M510.56,479.12a2.8,3.4 0 1,0 5.6,0a2.8,3.4 0 1,0 -5.6,0M516.43,479.01a2.8,3.4 0 1,0 5.6,0a2.8,3.4 0 1,0 -5.6,0M522.3,478.9a2.8,3.4 0 1,0 5.6,0a2.8,3.4 0 1,0 -5.6,0M528.17,478.79a2.8,3.4 0 1,0 5.6,0a2.8,3.4 0 1,0 -5.6,0M534.04,478.68a2.8,3.4 0 1,0 5.6,0a2.8,3.4 0 1,0 -5.6,0M539.91,478.57a2.8,3.4 0 1,0 5.6,0a2.8,3.4 0 1,0 -5.6,0M545.78,478.47a2.8,3.4 0 1,0 5.6,0a2.8,3.4 0 1,0 -5.6,0M551.65,478.36a2.8,3.4 0 1,0 5.6,0a2.8,3.4 0 1,0 -5.6,0M557.52,478.25a2.8,3.4 0 1,0 5.6,0a2.8,3.4 0 1,0 -5.6,0M563.39,478.15a2.8,3.4 0 1,0 5.6,0a2.8,3.4 0 1,0 -5.6,0M569.26,478.04a2.8,3.4 0 1,0 5.6,0a2.8,3.4 0 1,0 -5.6,0M575.13,477.94a2.8,3.4 0 1,0 5.6,0a2.8,3.4 0 1,0 -5.6,0M581,477.83a2.8,3.4 0 1,0 5.6,0a2.8,3.4 0 1,0 -5.6,0M586.87,477.73a2.8,3.4 0 1,0 5.6,0a2.8,3.4 0 1,0 -5.6,0M592.74,477.63a2.8,3.4 0 1,0 5.6,0a2.8,3.4 0 1,0 -5.6,0M598.61,477.53a2.8,3.4 0 1,0 5.6,0a2.8,3.4 0 1,0 -5.6,0M604.48,477.42a2.8,3.4 0 1,0 5.6,0a2.8,3.4 0 1,0 -5.6,0M610.35,477.32a2.8,3.4 0 1,0 5.6,0a2.8,3.4 0 1,0 -5.6,0M616.22,477.22a2.8,3.4 0 1,0 5.6,0a2.8,3.4 0 1,0 -5.6,0M622.09,477.12a2.8,3.4 0 1,0 5.6,0a2.8,3.4 0 1,0 -5.6,0M627.96,477.02a2.8,3.4 0 1,0 5.6,0a2.8,3.4 0 1,0 -5.6,0M633.83,476.92a2.8,3.4 0 1,0 5.6,0a2.8,3.4 0 1,0 -5.6,0M639.7,476.82a2.8,3.4 0 1,0 5.6,0a2.8,3.4 0 1,0 -5.6,0M645.57,476.73a2.8,3.4 0 1,0 5.6,0a2.8,3.4 0 1,0 -5.6,0M651.44,476.63a2.8,3.4 0 1,0 5.6,0a2.8,3.4 0 1,0 -5.6,0M657.31,476.53a2.8,3.4 0 1,0 5.6,0a2.8,3.4 0 1,0 -5.6,0M663.18,476.43a2.8,3.4 0 1,0 5.6,0a2.8,3.4 0 1,0 -5.6,0M669.05,476.34a2.8,3.4 0 1,0 5.6,0a2.8,3.4 0 1,0 -5.6,0M674.92,476.24a2.8,3.4 0 1,0 5.6,0a2.8,3.4 0 1,0 -5.6,0" fill="none" stroke="#121275" stroke-width="1.6"/>
<g font-size="24.5" fill="#000" stroke="#000" stroke-width="0.3">
<text transform="translate(96,523.2) scale(1,1.06)" text-anchor="middle">0</text>
<text transform="translate(213.4,523.2) scale(1,1.06)" text-anchor="middle">0.2</text>
<text transform="translate(330.8,523.2) scale(1,1.06)" text-anchor="middle">0.4</text>
<text transform="translate(448.2,523.2) scale(1,1.06)" text-anchor="middle">0.6</text>
<text transform="translate(565.6,523.2) scale(1,1.06)" text-anchor="middle">0.8</text>
<text transform="translate(683,523.2) scale(1,1.06)" text-anchor="middle">1</text>
<text transform="translate(89,503.5) scale(1,1.06)" text-anchor="end">0</text>
<text transform="translate(89,437.9) scale(1,1.06)" text-anchor="end">0.05</text>
<text transform="translate(89,372.3) scale(1,1.06)" text-anchor="end">0.1</text>
<text transform="translate(89,306.7) scale(1,1.06)" text-anchor="end">0.15</text>
<text transform="translate(89,241.1) scale(1,1.06)" text-anchor="end">0.2</text>
<text transform="translate(89,175.5) scale(1,1.06)" text-anchor="end">0.25</text>
<text transform="translate(89,109.9) scale(1,1.06)" text-anchor="end">0.3</text>
<text transform="translate(89,44.3) scale(1,1.06)" text-anchor="end">0.35</text>
<text x="387.5" y="553.7" text-anchor="middle">t=x/X0</text>
<text transform="translate(22.6,265.2) rotate(-90)" text-anchor="middle" font-size="28.5">Rad</text>
<text x="656" y="18.8" font-weight="bold" font-size="23.5">a)</text>
</g>
<rect x="109.5" y="46" width="208" height="147.6" fill="#fff" stroke="#000" stroke-width="1.4"/>
<path d="M117.5,66.1H186.2" stroke="#00e400" stroke-width="2.6"/>
<path d="M119.5,100.6H186" stroke="#0a0a50" stroke-width="2" stroke-dasharray="2 5.2"/>
<path d="M153.6,96.2l4.2,4.4l-4.2,4.4l-4.2,-4.4z" fill="#0a0aee" stroke="#08086a" stroke-width="0.6"/>
<path d="M125.8,136.3H180" stroke="#a00818" stroke-width="3" stroke-dasharray="13.7 6.5"/>
<path d="M120.1,171H185.5" stroke="#26208a" stroke-width="1.4"/>
<circle cx="153.6" cy="171" r="3.1" fill="none" stroke="#1a18b0" stroke-width="1.5"/>
<g font-size="22" fill="#000" stroke="#000" stroke-width="0.25">
<text transform="translate(191,74.6) scale(1.025,1.09)">40 MeV</text>
<text transform="translate(191,110.3) scale(1.025,1.09)">100 MeV</text>
<text transform="translate(191,145.6) scale(1.025,1.09)">300 MeV</text>
<text transform="translate(191,181.2) scale(1.025,1.09)">1000 MeV</text>
</g>
<rect x="802" y="36.5" width="580.5" height="458.7" fill="none" stroke="#3a3a3a" stroke-width="1.3"/>
<path d="M802,495.2v-5M802,36.5v5M874.56,495.2v-5M874.56,36.5v5M947.12,495.2v-5M947.12,36.5v5M1019.69,495.2v-5M1019.69,36.5v5M1092.25,495.2v-5M1092.25,36.5v5M1164.81,495.2v-5M1164.81,36.5v5M1237.38,495.2v-5M1237.38,36.5v5M1309.94,495.2v-5M1309.94,36.5v5M1382.5,495.2v-5M1382.5,36.5v5M802,495.2h5M1382.5,495.2h-5M802,429.67h5M1382.5,429.67h-5M802,364.14h5M1382.5,364.14h-5M802,298.61h5M1382.5,298.61h-5M802,233.09h5M1382.5,233.09h-5M802,167.56h5M1382.5,167.56h-5M802,102.03h5M1382.5,102.03h-5M802,36.5h5M1382.5,36.5h-5" stroke="#2a2a2a" stroke-width="1.3" fill="none"/>
<g clip-path="url(#cr)" fill="none">
<path d="M802,495.2 L802.48,495.2 L802.97,495.2 L803.45,495.2 L803.93,495.2 L804.42,495.2 L804.9,495.2 L805.39,495.2 L805.87,495.2 L806.35,495.2 L806.84,495.2 L807.32,495.2 L807.8,495.2 L808.29,495.2 L808.77,495.2 L809.26,495.2 L809.74,495.2 L810.22,495.2 L810.71,495.2 L811.19,495.2 L811.67,495.2 L812.16,495.2 L812.64,495.2 L813.13,495.2 L813.61,495.2 L814.09,495.2 L814.58,495.2 L815.06,495.2 L815.54,495.2 L816.03,495.2 L816.51,495.2 L817,495.2 L817.48,495.2 L817.96,495.2 L818.45,495.2 L818.93,495.2 L819.41,495.2 L819.9,495.2 L820.38,495.2 L820.87,495.2 L821.35,495.2 L821.83,495.2 L822.32,495.2 L822.8,495.2 L823.28,495.2 L823.77,495.2 L824.25,495.2 L824.74,495.2 L825.22,495.2 L825.7,495.2 L826.19,495.2 L826.67,495.2 L827.15,495.2 L827.64,495.2 L828.12,495.2 L828.61,495.2 L829.09,495.2 L829.57,495.2 L830.06,495.2 L830.54,495.2 L831.02,495.2 L831.51,495.2 L831.99,495.2 L832.48,495.2 L832.96,495.2 L833.44,495.2 L833.93,495.2 L834.41,495.2 L834.89,495.2 L835.38,495.2 L835.86,495.2 L836.35,495.2 L836.83,495.2 L837.31,495.2 L837.8,495.2 L838.28,495.2 L838.76,495.2 L839.25,495.2 L839.73,495.2 L840.22,495.2 L840.7,495.2 L841.18,495.2 L841.67,495.2 L842.15,495.2 L842.63,495.2 L843.12,495.2 L843.6,495.2 L844.09,495.2 L844.57,495.2 L845.05,495.2 L845.54,495.2 L846.02,495.2 L846.5,495.2 L846.99,495.2 L847.47,495.2 L847.96,495.2 L848.44,495.2 L848.92,495.2 L849.41,495.2 L849.89,495.2 L850.38,495.2 L850.86,495.2 L851.34,495.2 L851.83,495.2 L852.31,495.2 L852.79,495.2 L853.28,495.2 L853.76,495.2 L854.25,495.2 L854.73,495.2 L855.21,495.2 L855.7,495.2 L856.18,495.2 L856.66,495.2 L857.15,495.2 L857.63,495.2 L858.12,495.2 L858.6,495.2 L859.08,495.2 L859.57,495.2 L860.05,495.2 L860.53,495.2 L861.02,495.2 L861.5,495.2 L861.99,495.2 L862.47,495.2 L862.95,495.2 L863.44,495.2 L863.92,495.2 L864.4,495.2 L864.89,495.2 L865.37,495.2 L865.86,495.2 L866.34,495.2 L866.82,495.2 L867.31,495.2 L867.79,495.2 L868.27,495.2 L868.76,495.2 L869.24,495.2 L869.73,495.2 L870.21,495.2 L870.69,495.2 L871.18,495.2 L871.66,495.2 L872.14,495.2 L872.63,495.2 L873.11,495.2 L873.6,495.2 L874.08,495.2 L874.56,495.2 L875.05,495.2 L875.53,495.2 L876.01,495.2 L876.5,495.2 L876.98,495.2 L877.47,495.2 L877.95,495.2 L878.43,495.2 L878.92,495.2 L879.4,495.2 L879.88,495.2 L880.37,495.2 L880.85,495.2 L881.34,495.2 L881.82,495.2 L882.3,495.2 L882.79,495.2 L883.27,495.2 L883.75,495.2 L884.24,495.2 L884.72,495.2 L885.21,495.2 L885.69,495.2 L886.17,495.2 L886.66,495.2 L887.14,495.2 L887.62,495.2 L888.11,495.2 L888.59,495.2 L889.08,495.2 L889.56,495.2 L890.04,495.2 L890.53,495.2 L891.01,495.2 L891.49,495.2 L891.98,495.2 L892.46,495.2 L892.94,495.2 L893.43,495.2 L893.91,495.2 L894.4,495.2 L894.88,495.2 L895.36,495.2 L895.85,495.2 L896.33,495.2 L896.82,495.2 L897.3,495.2 L897.78,495.2 L898.27,495.2 L898.75,495.2 L899.23,495.2 L899.72,495.2 L900.2,495.2 L900.68,495.2 L901.17,495.2 L901.65,495.2 L902.14,495.2 L902.62,495.2 L903.1,495.2 L903.59,495.2 L904.07,495.2 L904.56,495.2 L905.04,495.2 L905.52,495.2 L906.01,495.2 L906.49,495.2 L906.97,495.2 L907.46,495.2 L907.94,495.2 L908.42,495.2 L908.91,495.2 L909.39,495.2 L909.88,495.2 L910.36,495.2 L910.84,495.2 L911.33,495.2 L911.81,495.2 L912.29,495.2 L912.78,495.2 L913.26,495.2 L913.75,495.2 L914.23,495.2 L914.71,495.2 L915.2,495.2 L915.68,495.2 L916.16,495.2 L916.65,495.2 L917.13,495.2 L917.62,495.2 L918.1,495.2 L918.58,495.2 L919.07,495.2 L919.55,495.2 L920.03,495.2 L920.52,495.2 L921,495.2 L921.49,495.2 L921.97,495.2 L922.45,495.2 L922.94,495.2 L923.42,495.2 L923.9,495.2 L924.39,495.2 L924.87,495.2 L925.36,495.2 L925.84,495.2 L926.32,495.2 L926.81,495.2 L927.29,495.2 L927.77,495.2 L928.26,495.2 L928.74,495.2 L929.23,495.2 L929.71,495.2 L930.19,495.2 L930.68,495.2 L931.16,495.2 L931.64,495.2 L932.13,495.2 L932.61,495.2 L933.1,495.2 L933.58,495.2 L934.06,495.2 L934.55,495.2 L935.03,495.2 L935.51,495.2 L936,495.2 L936.48,495.2 L936.97,495.2 L937.45,495.2 L937.93,495.2 L938.42,495.2 L938.9,495.2 L939.38,495.2 L939.87,495.2 L940.35,495.2 L940.84,495.2 L941.32,495.2 L941.8,495.2 L942.29,495.2 L942.77,495.2 L943.25,495.2 L943.74,495.2 L944.22,495.2 L944.71,495.2 L945.19,495.2 L945.67,495.2 L946.16,495.2 L946.64,495.2 L947.12,495.2 L947.61,495.2 L948.09,495.2 L948.58,495.2 L949.06,495.2 L949.54,495.2 L950.03,495.2 L950.51,495.2 L951,495.2 L951.48,495.2 L951.96,495.2 L952.45,495.2 L952.93,495.2 L953.41,495.2 L953.9,495.2 L954.38,495.2 L954.87,495.2 L955.35,495.2 L955.83,495.2 L956.32,495.2 L956.8,495.2 L957.28,495.2 L957.77,495.2 L958.25,495.2 L958.74,495.2 L959.22,495.2 L959.7,495.2 L960.19,495.2 L960.67,495.2 L961.15,495.2 L961.64,495.2 L962.12,495.2 L962.61,495.2 L963.09,495.2 L963.57,495.2 L964.06,495.2 L964.54,495.2 L965.02,495.2 L965.51,495.2 L965.99,495.2 L966.48,495.2 L966.96,495.2 L967.44,495.2 L967.93,495.2 L968.41,495.2 L968.89,495.2 L969.38,495.2 L969.86,495.2 L970.35,495.2 L970.83,495.2 L971.31,495.2 L971.8,495.2 L972.28,495.2 L972.76,495.2 L973.25,495.2 L973.73,495.2 L974.22,495.2 L974.7,495.2 L975.18,495.2 L975.67,495.2 L976.15,495.2 L976.63,495.2 L977.12,495.2 L977.6,495.2 L978.09,495.2 L978.57,495.2 L979.05,495.2 L979.54,495.2 L980.02,495.2 L980.5,495.2 L980.99,495.2 L981.47,495.2 L981.96,495.2 L982.44,495.2 L982.92,495.2 L983.41,495.2 L983.89,495.2 L984.37,495.2 L984.86,495.2 L985.34,495.2 L985.83,495.2 L986.31,495.2 L986.79,495.2 L987.28,495.2 L987.76,495.2 L988.24,495.2 L988.73,495.2 L989.21,495.2 L989.69,495.2 L990.18,495.2 L990.66,495.2 L991.15,495.2 L991.63,495.2 L992.11,495.2 L992.6,495.2 L993.08,495.2 L993.57,495.2 L994.05,495.2 L994.53,495.2 L995.02,495.2 L995.5,495.2 L995.98,495.2 L996.47,495.2 L996.95,495.2 L997.43,495.2 L997.92,495.2 L998.4,495.2 L998.89,495.2 L999.37,495.2 L999.85,495.2 L1000.34,495.2 L1000.82,495.2 L1001.31,495.2 L1001.79,495.2 L1002.27,495.2 L1002.76,495.2 L1003.24,495.2 L1003.72,495.2 L1004.21,495.2 L1004.69,495.2 L1005.17,495.2 L1005.66,495.2 L1006.14,495.2 L1006.63,495.2 L1007.11,495.2 L1007.59,495.2 L1008.08,495.2 L1008.56,495.2 L1009.04,495.2 L1009.53,495.2 L1010.01,495.2 L1010.5,495.2 L1010.98,495.2 L1011.46,495.2 L1011.95,495.2 L1012.43,495.19 L1012.91,495.19 L1013.4,495.19 L1013.88,495.19 L1014.37,495.19 L1014.85,495.19 L1015.33,495.19 L1015.82,495.19 L1016.3,495.18 L1016.78,495.18 L1017.27,495.18 L1017.75,495.18 L1018.24,495.17 L1018.72,495.17 L1019.2,495.16 L1019.69,495.16 L1020.17,495.15 L1020.65,495.15 L1021.14,495.14 L1021.62,495.13 L1022.11,495.13 L1022.59,495.12 L1023.07,495.11 L1023.56,495.09 L1024.04,495.08 L1024.53,495.07 L1025.01,495.05 L1025.49,495.03 L1025.98,495.01 L1026.46,494.99 L1026.94,494.96 L1027.43,494.94 L1027.91,494.91 L1028.39,494.87 L1028.88,494.83 L1029.36,494.79 L1029.85,494.75 L1030.33,494.69 L1030.81,494.64 L1031.3,494.58 L1031.78,494.51 L1032.26,494.43 L1032.75,494.35 L1033.23,494.26 L1033.72,494.16 L1034.2,494.05 L1034.68,493.93 L1035.17,493.8 L1035.65,493.66 L1036.13,493.5 L1036.62,493.33 L1037.1,493.14 L1037.59,492.94 L1038.07,492.72 L1038.55,492.48 L1039.04,492.22 L1039.52,491.93 L1040.01,491.63 L1040.49,491.29 L1040.97,490.93 L1041.46,490.54 L1041.94,490.12 L1042.42,489.66 L1042.91,489.17 L1043.39,488.64 L1043.88,488.08 L1044.36,487.46 L1044.84,486.8 L1045.33,486.1 L1045.81,485.34 L1046.29,484.53 L1046.78,483.66 L1047.26,482.73 L1047.74,481.73 L1048.23,480.67 L1048.71,479.54 L1049.2,478.33 L1049.68,477.05 L1050.16,475.68 L1050.65,474.23 L1051.13,472.69 L1051.62,471.06 L1052.1,469.32 L1052.58,467.49 L1053.07,465.56 L1053.55,463.51 L1054.03,461.35 L1054.52,459.07 L1055,456.68 L1055.49,454.15 L1055.97,451.5 L1056.45,448.72 L1056.94,445.8 L1057.42,442.74 L1057.9,439.53 L1058.39,436.18 L1058.87,432.68 L1059.36,429.03 L1059.84,425.22 L1060.32,421.25 L1060.81,417.12 L1061.29,412.83 L1061.77,408.38 L1062.26,403.76 L1062.74,398.98 L1063.22,394.03 L1063.71,388.91 L1064.19,383.63 L1064.68,378.18 L1065.16,372.57 L1065.64,366.8 L1066.13,360.86 L1066.61,354.77 L1067.1,348.52 L1067.58,342.12 L1068.06,335.57 L1068.55,328.89 L1069.03,322.06 L1069.51,315.11 L1070,308.03 L1070.48,300.83 L1070.96,293.53 L1071.45,286.12 L1071.93,278.62 L1072.42,271.04 L1072.9,263.38 L1073.38,255.67 L1073.87,247.9 L1074.35,240.09 L1074.84,232.25 L1075.32,224.39 L1075.8,216.54 L1076.29,208.69 L1076.77,200.86 L1077.25,193.07 L1077.74,185.33 L1078.22,177.66 L1078.7,170.07 L1079.19,162.57 L1079.67,155.18 L1080.16,147.92 L1080.64,140.79 L1081.12,133.82 L1081.61,127.01 L1082.09,120.39 L1082.58,113.96 L1083.06,107.75 L1083.54,101.76 L1084.03,96.01 L1084.51,90.51 L1084.99,85.28 L1085.48,80.32 L1085.96,75.65 L1086.44,71.28 L1086.93,67.22 L1087.41,63.47 L1087.9,60.06 L1088.38,56.98 L1088.86,54.25 L1089.35,51.87 L1089.83,49.84 L1090.32,48.17 L1090.8,46.88 L1091.28,45.95 L1091.77,45.39 L1092.25,45.2 L1092.73,45.39 L1093.22,45.95 L1093.7,46.88 L1094.18,48.17 L1094.67,49.84 L1095.15,51.87 L1095.64,54.25 L1096.12,56.98 L1096.6,60.06 L1097.09,63.47 L1097.57,67.22 L1098.06,71.28 L1098.54,75.65 L1099.02,80.32 L1099.51,85.28 L1099.99,90.51 L1100.47,96.01 L1100.96,101.76 L1101.44,107.75 L1101.92,113.96 L1102.41,120.39 L1102.89,127.01 L1103.38,133.82 L1103.86,140.79 L1104.34,147.92 L1104.83,155.18 L1105.31,162.57 L1105.8,170.07 L1106.28,177.66 L1106.76,185.33 L1107.25,193.07 L1107.73,200.86 L1108.21,208.69 L1108.7,216.54 L1109.18,224.39 L1109.66,232.25 L1110.15,240.09 L1110.63,247.9 L1111.12,255.67 L1111.6,263.38 L1112.08,271.04 L1112.57,278.62 L1113.05,286.12 L1113.54,293.53 L1114.02,300.83 L1114.5,308.03 L1114.99,315.11 L1115.47,322.06 L1115.95,328.89 L1116.44,335.57 L1116.92,342.12 L1117.4,348.52 L1117.89,354.77 L1118.37,360.86 L1118.86,366.8 L1119.34,372.57 L1119.82,378.18 L1120.31,383.63 L1120.79,388.91 L1121.28,394.03 L1121.76,398.98 L1122.24,403.76 L1122.73,408.38 L1123.21,412.83 L1123.69,417.12 L1124.18,421.25 L1124.66,425.22 L1125.14,429.03 L1125.63,432.68 L1126.11,436.18 L1126.6,439.53 L1127.08,442.74 L1127.56,445.8 L1128.05,448.72 L1128.53,451.5 L1129.01,454.15 L1129.5,456.68 L1129.98,459.07 L1130.47,461.35 L1130.95,463.51 L1131.43,465.56 L1131.92,467.49 L1132.4,469.32 L1132.88,471.06 L1133.37,472.69 L1133.85,474.23 L1134.34,475.68 L1134.82,477.05 L1135.3,478.33 L1135.79,479.54 L1136.27,480.67 L1136.76,481.73 L1137.24,482.73 L1137.72,483.66 L1138.21,484.53 L1138.69,485.34 L1139.17,486.1 L1139.66,486.8 L1140.14,487.46 L1140.62,488.08 L1141.11,488.64 L1141.59,489.17 L1142.08,489.66 L1142.56,490.12 L1143.04,490.54 L1143.53,490.93 L1144.01,491.29 L1144.49,491.63 L1144.98,491.93 L1145.46,492.22 L1145.95,492.48 L1146.43,492.72 L1146.91,492.94 L1147.4,493.14 L1147.88,493.33 L1148.37,493.5 L1148.85,493.66 L1149.33,493.8 L1149.82,493.93 L1150.3,494.05 L1150.78,494.16 L1151.27,494.26 L1151.75,494.35 L1152.24,494.43 L1152.72,494.51 L1153.2,494.58 L1153.69,494.64 L1154.17,494.69 L1154.65,494.75 L1155.14,494.79 L1155.62,494.83 L1156.11,494.87 L1156.59,494.91 L1157.07,494.94 L1157.56,494.96 L1158.04,494.99 L1158.52,495.01 L1159.01,495.03 L1159.49,495.05 L1159.97,495.07 L1160.46,495.08 L1160.94,495.09 L1161.43,495.11 L1161.91,495.12 L1162.39,495.13 L1162.88,495.13 L1163.36,495.14 L1163.85,495.15 L1164.33,495.15 L1164.81,495.16 L1165.3,495.16 L1165.78,495.17 L1166.26,495.17 L1166.75,495.18 L1167.23,495.18 L1167.71,495.18 L1168.2,495.18 L1168.68,495.19 L1169.17,495.19 L1169.65,495.19 L1170.13,495.19 L1170.62,495.19 L1171.1,495.19 L1171.59,495.19 L1172.07,495.19 L1172.55,495.2 L1173.04,495.2 L1173.52,495.2 L1174,495.2 L1174.49,495.2 L1174.97,495.2 L1175.45,495.2 L1175.94,495.2 L1176.42,495.2 L1176.91,495.2 L1177.39,495.2 L1177.87,495.2 L1178.36,495.2 L1178.84,495.2 L1179.33,495.2 L1179.81,495.2 L1180.29,495.2 L1180.78,495.2 L1181.26,495.2 L1181.74,495.2 L1182.23,495.2 L1182.71,495.2 L1183.19,495.2 L1183.68,495.2 L1184.16,495.2 L1184.65,495.2 L1185.13,495.2 L1185.61,495.2 L1186.1,495.2 L1186.58,495.2 L1187.07,495.2 L1187.55,495.2 L1188.03,495.2 L1188.52,495.2 L1189,495.2 L1189.48,495.2 L1189.97,495.2 L1190.45,495.2 L1190.93,495.2 L1191.42,495.2 L1191.9,495.2 L1192.39,495.2 L1192.87,495.2 L1193.35,495.2 L1193.84,495.2 L1194.32,495.2 L1194.81,495.2 L1195.29,495.2 L1195.77,495.2 L1196.26,495.2 L1196.74,495.2 L1197.22,495.2 L1197.71,495.2 L1198.19,495.2 L1198.67,495.2 L1199.16,495.2 L1199.64,495.2 L1200.13,495.2 L1200.61,495.2 L1201.09,495.2 L1201.58,495.2 L1202.06,495.2 L1202.55,495.2 L1203.03,495.2 L1203.51,495.2 L1204,495.2 L1204.48,495.2 L1204.96,495.2 L1205.45,495.2 L1205.93,495.2 L1206.41,495.2 L1206.9,495.2 L1207.38,495.2 L1207.87,495.2 L1208.35,495.2 L1208.83,495.2 L1209.32,495.2 L1209.8,495.2 L1210.29,495.2 L1210.77,495.2 L1211.25,495.2 L1211.74,495.2 L1212.22,495.2 L1212.7,495.2 L1213.19,495.2 L1213.67,495.2 L1214.15,495.2 L1214.64,495.2 L1215.12,495.2 L1215.61,495.2 L1216.09,495.2 L1216.57,495.2 L1217.06,495.2 L1217.54,495.2 L1218.03,495.2 L1218.51,495.2 L1218.99,495.2 L1219.48,495.2 L1219.96,495.2 L1220.44,495.2 L1220.93,495.2 L1221.41,495.2 L1221.89,495.2 L1222.38,495.2 L1222.86,495.2 L1223.35,495.2 L1223.83,495.2 L1224.31,495.2 L1224.8,495.2 L1225.28,495.2 L1225.76,495.2 L1226.25,495.2 L1226.73,495.2 L1227.22,495.2 L1227.7,495.2 L1228.18,495.2 L1228.67,495.2 L1229.15,495.2 L1229.63,495.2 L1230.12,495.2 L1230.6,495.2 L1231.09,495.2 L1231.57,495.2 L1232.05,495.2 L1232.54,495.2 L1233.02,495.2 L1233.51,495.2 L1233.99,495.2 L1234.47,495.2 L1234.96,495.2 L1235.44,495.2 L1235.92,495.2 L1236.41,495.2 L1236.89,495.2 L1237.38,495.2 L1237.86,495.2 L1238.34,495.2 L1238.83,495.2 L1239.31,495.2 L1239.79,495.2 L1240.28,495.2 L1240.76,495.2 L1241.24,495.2 L1241.73,495.2 L1242.21,495.2 L1242.7,495.2 L1243.18,495.2 L1243.66,495.2 L1244.15,495.2 L1244.63,495.2 L1245.12,495.2 L1245.6,495.2 L1246.08,495.2 L1246.57,495.2 L1247.05,495.2 L1247.53,495.2 L1248.02,495.2 L1248.5,495.2 L1248.99,495.2 L1249.47,495.2 L1249.95,495.2 L1250.44,495.2 L1250.92,495.2 L1251.4,495.2 L1251.89,495.2 L1252.37,495.2 L1252.86,495.2 L1253.34,495.2 L1253.82,495.2 L1254.31,495.2 L1254.79,495.2 L1255.27,495.2 L1255.76,495.2 L1256.24,495.2 L1256.72,495.2 L1257.21,495.2 L1257.69,495.2 L1258.18,495.2 L1258.66,495.2 L1259.14,495.2 L1259.63,495.2 L1260.11,495.2 L1260.6,495.2 L1261.08,495.2 L1261.56,495.2 L1262.05,495.2 L1262.53,495.2 L1263.01,495.2 L1263.5,495.2 L1263.98,495.2 L1264.46,495.2 L1264.95,495.2 L1265.43,495.2 L1265.92,495.2 L1266.4,495.2 L1266.88,495.2 L1267.37,495.2 L1267.85,495.2 L1268.34,495.2 L1268.82,495.2 L1269.3,495.2 L1269.79,495.2 L1270.27,495.2 L1270.75,495.2 L1271.24,495.2 L1271.72,495.2 L1272.2,495.2 L1272.69,495.2 L1273.17,495.2 L1273.66,495.2 L1274.14,495.2 L1274.62,495.2 L1275.11,495.2 L1275.59,495.2 L1276.08,495.2 L1276.56,495.2 L1277.04,495.2 L1277.53,495.2 L1278.01,495.2 L1278.49,495.2 L1278.98,495.2 L1279.46,495.2 L1279.94,495.2 L1280.43,495.2 L1280.91,495.2 L1281.4,495.2 L1281.88,495.2 L1282.36,495.2 L1282.85,495.2 L1283.33,495.2 L1283.82,495.2 L1284.3,495.2 L1284.78,495.2 L1285.27,495.2 L1285.75,495.2 L1286.23,495.2 L1286.72,495.2 L1287.2,495.2 L1287.68,495.2 L1288.17,495.2 L1288.65,495.2 L1289.14,495.2 L1289.62,495.2 L1290.1,495.2 L1290.59,495.2 L1291.07,495.2 L1291.56,495.2 L1292.04,495.2 L1292.52,495.2 L1293.01,495.2 L1293.49,495.2 L1293.97,495.2 L1294.46,495.2 L1294.94,495.2 L1295.42,495.2 L1295.91,495.2 L1296.39,495.2 L1296.88,495.2 L1297.36,495.2 L1297.84,495.2 L1298.33,495.2 L1298.81,495.2 L1299.3,495.2 L1299.78,495.2 L1300.26,495.2 L1300.75,495.2 L1301.23,495.2 L1301.71,495.2 L1302.2,495.2 L1302.68,495.2 L1303.16,495.2 L1303.65,495.2 L1304.13,495.2 L1304.62,495.2 L1305.1,495.2 L1305.58,495.2 L1306.07,495.2 L1306.55,495.2 L1307.04,495.2 L1307.52,495.2 L1308,495.2 L1308.49,495.2 L1308.97,495.2 L1309.45,495.2 L1309.94,495.2 L1310.42,495.2 L1310.9,495.2 L1311.39,495.2 L1311.87,495.2 L1312.36,495.2 L1312.84,495.2 L1313.32,495.2 L1313.81,495.2 L1314.29,495.2 L1314.78,495.2 L1315.26,495.2 L1315.74,495.2 L1316.23,495.2 L1316.71,495.2 L1317.19,495.2 L1317.68,495.2 L1318.16,495.2 L1318.64,495.2 L1319.13,495.2 L1319.61,495.2 L1320.1,495.2 L1320.58,495.2 L1321.06,495.2 L1321.55,495.2 L1322.03,495.2 L1322.51,495.2 L1323,495.2 L1323.48,495.2 L1323.97,495.2 L1324.45,495.2 L1324.93,495.2 L1325.42,495.2 L1325.9,495.2 L1326.38,495.2 L1326.87,495.2 L1327.35,495.2 L1327.84,495.2 L1328.32,495.2 L1328.8,495.2 L1329.29,495.2 L1329.77,495.2 L1330.26,495.2 L1330.74,495.2 L1331.22,495.2 L1331.71,495.2 L1332.19,495.2 L1332.67,495.2 L1333.16,495.2 L1333.64,495.2 L1334.12,495.2 L1334.61,495.2 L1335.09,495.2 L1335.58,495.2 L1336.06,495.2 L1336.54,495.2 L1337.03,495.2 L1337.51,495.2 L1337.99,495.2 L1338.48,495.2 L1338.96,495.2 L1339.45,495.2 L1339.93,495.2 L1340.41,495.2 L1340.9,495.2 L1341.38,495.2 L1341.87,495.2 L1342.35,495.2 L1342.83,495.2 L1343.32,495.2 L1343.8,495.2 L1344.28,495.2 L1344.77,495.2 L1345.25,495.2 L1345.74,495.2 L1346.22,495.2 L1346.7,495.2 L1347.19,495.2 L1347.67,495.2 L1348.15,495.2 L1348.64,495.2 L1349.12,495.2 L1349.61,495.2 L1350.09,495.2 L1350.57,495.2 L1351.06,495.2 L1351.54,495.2 L1352.02,495.2 L1352.51,495.2 L1352.99,495.2 L1353.47,495.2 L1353.96,495.2 L1354.44,495.2 L1354.93,495.2 L1355.41,495.2 L1355.89,495.2 L1356.38,495.2 L1356.86,495.2 L1357.35,495.2 L1357.83,495.2 L1358.31,495.2 L1358.8,495.2 L1359.28,495.2 L1359.76,495.2 L1360.25,495.2 L1360.73,495.2 L1361.22,495.2 L1361.7,495.2 L1362.18,495.2 L1362.67,495.2 L1363.15,495.2 L1363.63,495.2 L1364.12,495.2 L1364.6,495.2 L1365.09,495.2 L1365.57,495.2 L1366.05,495.2 L1366.54,495.2 L1367.02,495.2 L1367.5,495.2 L1367.99,495.2 L1368.47,495.2 L1368.95,495.2 L1369.44,495.2 L1369.92,495.2 L1370.41,495.2 L1370.89,495.2 L1371.37,495.2 L1371.86,495.2 L1372.34,495.2 L1372.83,495.2 L1373.31,495.2 L1373.79,495.2 L1374.28,495.2 L1374.76,495.2 L1375.24,495.2 L1375.73,495.2 L1376.21,495.2 L1376.7,495.2 L1377.18,495.2 L1377.66,495.2 L1378.15,495.2 L1378.63,495.2 L1379.11,495.2 L1379.6,495.2 L1380.08,495.2 L1380.57,495.2 L1381.05,495.2 L1381.53,495.2 L1382.02,495.2 L1382.5,495.2" stroke="#0000f0" stroke-width="3.5"/>
<path d="M802,495.2 L802.73,495.2 L803.45,495.2 L804.18,495.2 L804.9,495.2 L805.63,495.2 L806.35,495.2 L807.08,495.2 L807.8,495.2 L808.53,495.2 L809.26,495.2 L809.98,495.2 L810.71,495.2 L811.43,495.2 L812.16,495.2 L812.88,495.2 L813.61,495.2 L814.34,495.2 L815.06,495.2 L815.79,495.2 L816.51,495.2 L817.24,495.2 L817.96,495.2 L818.69,495.2 L819.41,495.2 L820.14,495.2 L820.87,495.2 L821.59,495.2 L822.32,495.2 L823.04,495.2 L823.77,495.2 L824.49,495.2 L825.22,495.2 L825.95,495.2 L826.67,495.2 L827.4,495.2 L828.12,495.2 L828.85,495.2 L829.57,495.2 L830.3,495.2 L831.02,495.2 L831.75,495.2 L832.48,495.2 L833.2,495.2 L833.93,495.2 L834.65,495.2 L835.38,495.2 L836.1,495.2 L836.83,495.2 L837.56,495.2 L838.28,495.2 L839.01,495.2 L839.73,495.2 L840.46,495.2 L841.18,495.2 L841.91,495.2 L842.63,495.2 L843.36,495.2 L844.09,495.2 L844.81,495.2 L845.54,495.2 L846.26,495.2 L846.99,495.2 L847.71,495.2 L848.44,495.2 L849.17,495.2 L849.89,495.2 L850.62,495.2 L851.34,495.2 L852.07,495.2 L852.79,495.2 L853.52,495.2 L854.25,495.2 L854.97,495.2 L855.7,495.2 L856.42,495.2 L857.15,495.2 L857.87,495.2 L858.6,495.2 L859.32,495.2 L860.05,495.2 L860.78,495.2 L861.5,495.2 L862.23,495.2 L862.95,495.2 L863.68,495.2 L864.4,495.2 L865.13,495.2 L865.86,495.2 L866.58,495.2 L867.31,495.2 L868.03,495.2 L868.76,495.2 L869.48,495.2 L870.21,495.2 L870.93,495.2 L871.66,495.2 L872.39,495.2 L873.11,495.2 L873.84,495.2 L874.56,495.2 L875.29,495.2 L876.01,495.2 L876.74,495.2 L877.47,495.2 L878.19,495.2 L878.92,495.2 L879.64,495.2 L880.37,495.2 L881.09,495.2 L881.82,495.2 L882.54,495.2 L883.27,495.2 L884,495.2 L884.72,495.2 L885.45,495.2 L886.17,495.2 L886.9,495.2 L887.62,495.2 L888.35,495.2 L889.08,495.2 L889.8,495.2 L890.53,495.2 L891.25,495.2 L891.98,495.2 L892.7,495.2 L893.43,495.2 L894.15,495.2 L894.88,495.2 L895.61,495.2 L896.33,495.2 L897.06,495.2 L897.78,495.2 L898.51,495.2 L899.23,495.2 L899.96,495.2 L900.68,495.2 L901.41,495.2 L902.14,495.2 L902.86,495.2 L903.59,495.2 L904.31,495.2 L905.04,495.2 L905.76,495.2 L906.49,495.19 L907.22,495.19 L907.94,495.19 L908.67,495.19 L909.39,495.19 L910.12,495.19 L910.84,495.19 L911.57,495.19 L912.29,495.19 L913.02,495.19 L913.75,495.19 L914.47,495.19 L915.2,495.19 L915.92,495.19 L916.65,495.18 L917.37,495.18 L918.1,495.18 L918.83,495.18 L919.55,495.18 L920.28,495.18 L921,495.18 L921.73,495.17 L922.45,495.17 L923.18,495.17 L923.9,495.17 L924.63,495.16 L925.36,495.16 L926.08,495.16 L926.81,495.16 L927.53,495.15 L928.26,495.15 L928.98,495.14 L929.71,495.14 L930.44,495.14 L931.16,495.13 L931.89,495.13 L932.61,495.12 L933.34,495.12 L934.06,495.11 L934.79,495.1 L935.51,495.1 L936.24,495.09 L936.97,495.08 L937.69,495.07 L938.42,495.06 L939.14,495.05 L939.87,495.04 L940.59,495.03 L941.32,495.02 L942.05,495.01 L942.77,494.99 L943.5,494.98 L944.22,494.97 L944.95,494.95 L945.67,494.93 L946.4,494.91 L947.12,494.9 L947.85,494.88 L948.58,494.85 L949.3,494.83 L950.03,494.81 L950.75,494.78 L951.48,494.76 L952.2,494.73 L952.93,494.7 L953.66,494.67 L954.38,494.63 L955.11,494.6 L955.83,494.56 L956.56,494.52 L957.28,494.48 L958.01,494.43 L958.74,494.39 L959.46,494.34 L960.19,494.28 L960.91,494.23 L961.64,494.17 L962.36,494.11 L963.09,494.05 L963.81,493.98 L964.54,493.91 L965.27,493.83 L965.99,493.75 L966.72,493.67 L967.44,493.58 L968.17,493.49 L968.89,493.39 L969.62,493.29 L970.35,493.19 L971.07,493.08 L971.8,492.96 L972.52,492.84 L973.25,492.71 L973.97,492.58 L974.7,492.43 L975.42,492.29 L976.15,492.13 L976.88,491.97 L977.6,491.8 L978.33,491.63 L979.05,491.44 L979.78,491.25 L980.5,491.05 L981.23,490.84 L981.96,490.62 L982.68,490.39 L983.41,490.16 L984.13,489.91 L984.86,489.65 L985.58,489.38 L986.31,489.1 L987.03,488.81 L987.76,488.51 L988.49,488.19 L989.21,487.86 L989.94,487.52 L990.66,487.17 L991.39,486.8 L992.11,486.42 L992.84,486.02 L993.57,485.61 L994.29,485.18 L995.02,484.74 L995.74,484.28 L996.47,483.81 L997.19,483.32 L997.92,482.81 L998.64,482.29 L999.37,481.74 L1000.1,481.18 L1000.82,480.6 L1001.55,480 L1002.27,479.38 L1003,478.74 L1003.72,478.08 L1004.45,477.4 L1005.17,476.69 L1005.9,475.97 L1006.63,475.23 L1007.35,474.46 L1008.08,473.67 L1008.8,472.85 L1009.53,472.02 L1010.25,471.16 L1010.98,470.27 L1011.71,469.36 L1012.43,468.43 L1013.16,467.47 L1013.88,466.49 L1014.61,465.48 L1015.33,464.45 L1016.06,463.39 L1016.78,462.31 L1017.51,461.19 L1018.24,460.06 L1018.96,458.89 L1019.69,457.7 L1020.41,456.48 L1021.14,455.24 L1021.86,453.97 L1022.59,452.67 L1023.32,451.35 L1024.04,450 L1024.77,448.62 L1025.49,447.22 L1026.22,445.79 L1026.94,444.33 L1027.67,442.85 L1028.39,441.34 L1029.12,439.81 L1029.85,438.25 L1030.57,436.66 L1031.3,435.05 L1032.02,433.42 L1032.75,431.76 L1033.47,430.08 L1034.2,428.37 L1034.93,426.65 L1035.65,424.9 L1036.38,423.13 L1037.1,421.33 L1037.83,419.52 L1038.55,417.69 L1039.28,415.84 L1040.01,413.97 L1040.73,412.08 L1041.46,410.18 L1042.18,408.26 L1042.91,406.33 L1043.63,404.39 L1044.36,402.43 L1045.08,400.45 L1045.81,398.47 L1046.54,396.48 L1047.26,394.48 L1047.99,392.47 L1048.71,390.46 L1049.44,388.44 L1050.16,386.41 L1050.89,384.39 L1051.62,382.36 L1052.34,380.33 L1053.07,378.3 L1053.79,376.28 L1054.52,374.26 L1055.24,372.24 L1055.97,370.23 L1056.69,368.23 L1057.42,366.24 L1058.15,364.26 L1058.87,362.29 L1059.6,360.33 L1060.32,358.39 L1061.05,356.47 L1061.77,354.56 L1062.5,352.67 L1063.22,350.81 L1063.95,348.97 L1064.68,347.15 L1065.4,345.36 L1066.13,343.59 L1066.85,341.85 L1067.58,340.14 L1068.3,338.47 L1069.03,336.82 L1069.76,335.21 L1070.48,333.64 L1071.21,332.1 L1071.93,330.6 L1072.66,329.15 L1073.38,327.73 L1074.11,326.35 L1074.84,325.02 L1075.56,323.73 L1076.29,322.49 L1077.01,321.29 L1077.74,320.14 L1078.46,319.04 L1079.19,317.99 L1079.91,316.99 L1080.64,316.05 L1081.37,315.15 L1082.09,314.31 L1082.82,313.53 L1083.54,312.8 L1084.27,312.12 L1084.99,311.51 L1085.72,310.94 L1086.44,310.44 L1087.17,310 L1087.9,309.61 L1088.62,309.28 L1089.35,309.01 L1090.07,308.8 L1090.8,308.65 L1091.52,308.56 L1092.25,308.53 L1092.98,308.56 L1093.7,308.65 L1094.43,308.8 L1095.15,309.01 L1095.88,309.28 L1096.6,309.61 L1097.33,310 L1098.06,310.44 L1098.78,310.94 L1099.51,311.51 L1100.23,312.12 L1100.96,312.8 L1101.68,313.53 L1102.41,314.31 L1103.13,315.15 L1103.86,316.05 L1104.59,316.99 L1105.31,317.99 L1106.04,319.04 L1106.76,320.14 L1107.49,321.29 L1108.21,322.49 L1108.94,323.73 L1109.66,325.02 L1110.39,326.35 L1111.12,327.73 L1111.84,329.15 L1112.57,330.6 L1113.29,332.1 L1114.02,333.64 L1114.74,335.21 L1115.47,336.82 L1116.2,338.47 L1116.92,340.14 L1117.65,341.85 L1118.37,343.59 L1119.1,345.36 L1119.82,347.15 L1120.55,348.97 L1121.28,350.81 L1122,352.67 L1122.73,354.56 L1123.45,356.47 L1124.18,358.39 L1124.9,360.33 L1125.63,362.29 L1126.35,364.26 L1127.08,366.24 L1127.81,368.23 L1128.53,370.23 L1129.26,372.24 L1129.98,374.26 L1130.71,376.28 L1131.43,378.3 L1132.16,380.33 L1132.88,382.36 L1133.61,384.39 L1134.34,386.41 L1135.06,388.44 L1135.79,390.46 L1136.51,392.47 L1137.24,394.48 L1137.96,396.48 L1138.69,398.47 L1139.42,400.45 L1140.14,402.43 L1140.87,404.39 L1141.59,406.33 L1142.32,408.26 L1143.04,410.18 L1143.77,412.08 L1144.49,413.97 L1145.22,415.84 L1145.95,417.69 L1146.67,419.52 L1147.4,421.33 L1148.12,423.13 L1148.85,424.9 L1149.57,426.65 L1150.3,428.37 L1151.03,430.08 L1151.75,431.76 L1152.48,433.42 L1153.2,435.05 L1153.93,436.66 L1154.65,438.25 L1155.38,439.81 L1156.11,441.34 L1156.83,442.85 L1157.56,444.33 L1158.28,445.79 L1159.01,447.22 L1159.73,448.62 L1160.46,450 L1161.18,451.35 L1161.91,452.67 L1162.64,453.97 L1163.36,455.24 L1164.09,456.48 L1164.81,457.7 L1165.54,458.89 L1166.26,460.06 L1166.99,461.19 L1167.71,462.31 L1168.44,463.39 L1169.17,464.45 L1169.89,465.48 L1170.62,466.49 L1171.34,467.47 L1172.07,468.43 L1172.79,469.36 L1173.52,470.27 L1174.25,471.16 L1174.97,472.02 L1175.7,472.85 L1176.42,473.67 L1177.15,474.46 L1177.87,475.23 L1178.6,475.97 L1179.33,476.69 L1180.05,477.4 L1180.78,478.08 L1181.5,478.74 L1182.23,479.38 L1182.95,480 L1183.68,480.6 L1184.4,481.18 L1185.13,481.74 L1185.86,482.29 L1186.58,482.81 L1187.31,483.32 L1188.03,483.81 L1188.76,484.28 L1189.48,484.74 L1190.21,485.18 L1190.93,485.61 L1191.66,486.02 L1192.39,486.42 L1193.11,486.8 L1193.84,487.17 L1194.56,487.52 L1195.29,487.86 L1196.01,488.19 L1196.74,488.51 L1197.47,488.81 L1198.19,489.1 L1198.92,489.38 L1199.64,489.65 L1200.37,489.91 L1201.09,490.16 L1201.82,490.39 L1202.55,490.62 L1203.27,490.84 L1204,491.05 L1204.72,491.25 L1205.45,491.44 L1206.17,491.63 L1206.9,491.8 L1207.62,491.97 L1208.35,492.13 L1209.08,492.29 L1209.8,492.43 L1210.53,492.58 L1211.25,492.71 L1211.98,492.84 L1212.7,492.96 L1213.43,493.08 L1214.15,493.19 L1214.88,493.29 L1215.61,493.39 L1216.33,493.49 L1217.06,493.58 L1217.78,493.67 L1218.51,493.75 L1219.23,493.83 L1219.96,493.91 L1220.69,493.98 L1221.41,494.05 L1222.14,494.11 L1222.86,494.17 L1223.59,494.23 L1224.31,494.28 L1225.04,494.34 L1225.76,494.39 L1226.49,494.43 L1227.22,494.48 L1227.94,494.52 L1228.67,494.56 L1229.39,494.6 L1230.12,494.63 L1230.84,494.67 L1231.57,494.7 L1232.3,494.73 L1233.02,494.76 L1233.75,494.78 L1234.47,494.81 L1235.2,494.83 L1235.92,494.85 L1236.65,494.88 L1237.38,494.9 L1238.1,494.91 L1238.83,494.93 L1239.55,494.95 L1240.28,494.97 L1241,494.98 L1241.73,494.99 L1242.45,495.01 L1243.18,495.02 L1243.91,495.03 L1244.63,495.04 L1245.36,495.05 L1246.08,495.06 L1246.81,495.07 L1247.53,495.08 L1248.26,495.09 L1248.99,495.1 L1249.71,495.1 L1250.44,495.11 L1251.16,495.12 L1251.89,495.12 L1252.61,495.13 L1253.34,495.13 L1254.06,495.14 L1254.79,495.14 L1255.52,495.14 L1256.24,495.15 L1256.97,495.15 L1257.69,495.16 L1258.42,495.16 L1259.14,495.16 L1259.87,495.16 L1260.6,495.17 L1261.32,495.17 L1262.05,495.17 L1262.77,495.17 L1263.5,495.18 L1264.22,495.18 L1264.95,495.18 L1265.67,495.18 L1266.4,495.18 L1267.13,495.18 L1267.85,495.18 L1268.58,495.19 L1269.3,495.19 L1270.03,495.19 L1270.75,495.19 L1271.48,495.19 L1272.2,495.19 L1272.93,495.19 L1273.66,495.19 L1274.38,495.19 L1275.11,495.19 L1275.83,495.19 L1276.56,495.19 L1277.28,495.19 L1278.01,495.19 L1278.74,495.2 L1279.46,495.2 L1280.19,495.2 L1280.91,495.2 L1281.64,495.2 L1282.36,495.2 L1283.09,495.2 L1283.82,495.2 L1284.54,495.2 L1285.27,495.2 L1285.99,495.2 L1286.72,495.2 L1287.44,495.2 L1288.17,495.2 L1288.89,495.2 L1289.62,495.2 L1290.35,495.2 L1291.07,495.2 L1291.8,495.2 L1292.52,495.2 L1293.25,495.2 L1293.97,495.2 L1294.7,495.2 L1295.42,495.2 L1296.15,495.2 L1296.88,495.2 L1297.6,495.2 L1298.33,495.2 L1299.05,495.2 L1299.78,495.2 L1300.5,495.2 L1301.23,495.2 L1301.96,495.2 L1302.68,495.2 L1303.41,495.2 L1304.13,495.2 L1304.86,495.2 L1305.58,495.2 L1306.31,495.2 L1307.04,495.2 L1307.76,495.2 L1308.49,495.2 L1309.21,495.2 L1309.94,495.2 L1310.66,495.2 L1311.39,495.2 L1312.11,495.2 L1312.84,495.2 L1313.57,495.2 L1314.29,495.2 L1315.02,495.2 L1315.74,495.2 L1316.47,495.2 L1317.19,495.2 L1317.92,495.2 L1318.64,495.2 L1319.37,495.2 L1320.1,495.2 L1320.82,495.2 L1321.55,495.2 L1322.27,495.2 L1323,495.2 L1323.72,495.2 L1324.45,495.2 L1325.18,495.2 L1325.9,495.2 L1326.63,495.2 L1327.35,495.2 L1328.08,495.2 L1328.8,495.2 L1329.53,495.2 L1330.26,495.2 L1330.98,495.2 L1331.71,495.2 L1332.43,495.2 L1333.16,495.2 L1333.88,495.2 L1334.61,495.2 L1335.33,495.2 L1336.06,495.2 L1336.79,495.2 L1337.51,495.2 L1338.24,495.2 L1338.96,495.2 L1339.69,495.2 L1340.41,495.2 L1341.14,495.2 L1341.87,495.2 L1342.59,495.2 L1343.32,495.2 L1344.04,495.2 L1344.77,495.2 L1345.49,495.2 L1346.22,495.2 L1346.94,495.2 L1347.67,495.2 L1348.4,495.2 L1349.12,495.2 L1349.85,495.2 L1350.57,495.2 L1351.3,495.2 L1352.02,495.2 L1352.75,495.2 L1353.47,495.2 L1354.2,495.2 L1354.93,495.2 L1355.65,495.2 L1356.38,495.2 L1357.1,495.2 L1357.83,495.2 L1358.55,495.2 L1359.28,495.2 L1360.01,495.2 L1360.73,495.2 L1361.46,495.2 L1362.18,495.2 L1362.91,495.2 L1363.63,495.2 L1364.36,495.2 L1365.09,495.2 L1365.81,495.2 L1366.54,495.2 L1367.26,495.2 L1367.99,495.2 L1368.71,495.2 L1369.44,495.2 L1370.16,495.2 L1370.89,495.2 L1371.62,495.2 L1372.34,495.2 L1373.07,495.2 L1373.79,495.2 L1374.52,495.2 L1375.24,495.2 L1375.97,495.2 L1376.7,495.2 L1377.42,495.2 L1378.15,495.2 L1378.87,495.2 L1379.6,495.2 L1380.32,495.2 L1381.05,495.2 L1381.77,495.2 L1382.5,495.2" stroke="#007a00" stroke-width="3.5" stroke-dasharray="14.5 16.5" stroke-dashoffset="26.49"/>
<path d="M802,495.2 L802.73,495.2 L803.45,495.2 L804.18,495.2 L804.9,495.2 L805.63,495.2 L806.35,495.2 L807.08,495.2 L807.8,495.2 L808.53,495.2 L809.26,495.2 L809.98,495.2 L810.71,495.2 L811.43,495.2 L812.16,495.2 L812.88,495.2 L813.61,495.2 L814.34,495.2 L815.06,495.2 L815.79,495.2 L816.51,495.2 L817.24,495.2 L817.96,495.2 L818.69,495.2 L819.41,495.2 L820.14,495.2 L820.87,495.2 L821.59,495.2 L822.32,495.19 L823.04,495.19 L823.77,495.19 L824.49,495.19 L825.22,495.19 L825.95,495.19 L826.67,495.19 L827.4,495.19 L828.12,495.19 L828.85,495.19 L829.57,495.19 L830.3,495.19 L831.02,495.19 L831.75,495.19 L832.48,495.19 L833.2,495.19 L833.93,495.19 L834.65,495.19 L835.38,495.19 L836.1,495.19 L836.83,495.19 L837.56,495.18 L838.28,495.18 L839.01,495.18 L839.73,495.18 L840.46,495.18 L841.18,495.18 L841.91,495.18 L842.63,495.18 L843.36,495.18 L844.09,495.18 L844.81,495.17 L845.54,495.17 L846.26,495.17 L846.99,495.17 L847.71,495.17 L848.44,495.17 L849.17,495.17 L849.89,495.16 L850.62,495.16 L851.34,495.16 L852.07,495.16 L852.79,495.16 L853.52,495.15 L854.25,495.15 L854.97,495.15 L855.7,495.15 L856.42,495.14 L857.15,495.14 L857.87,495.14 L858.6,495.13 L859.32,495.13 L860.05,495.13 L860.78,495.12 L861.5,495.12 L862.23,495.12 L862.95,495.11 L863.68,495.11 L864.4,495.11 L865.13,495.1 L865.86,495.1 L866.58,495.09 L867.31,495.09 L868.03,495.08 L868.76,495.08 L869.48,495.07 L870.21,495.06 L870.93,495.06 L871.66,495.05 L872.39,495.04 L873.11,495.04 L873.84,495.03 L874.56,495.02 L875.29,495.01 L876.01,495.01 L876.74,495 L877.47,494.99 L878.19,494.98 L878.92,494.97 L879.64,494.96 L880.37,494.95 L881.09,494.94 L881.82,494.93 L882.54,494.92 L883.27,494.9 L884,494.89 L884.72,494.88 L885.45,494.86 L886.17,494.85 L886.9,494.83 L887.62,494.82 L888.35,494.8 L889.08,494.79 L889.8,494.77 L890.53,494.75 L891.25,494.73 L891.98,494.71 L892.7,494.69 L893.43,494.67 L894.15,494.65 L894.88,494.63 L895.61,494.6 L896.33,494.58 L897.06,494.56 L897.78,494.53 L898.51,494.5 L899.23,494.48 L899.96,494.45 L900.68,494.42 L901.41,494.39 L902.14,494.35 L902.86,494.32 L903.59,494.29 L904.31,494.25 L905.04,494.22 L905.76,494.18 L906.49,494.14 L907.22,494.1 L907.94,494.06 L908.67,494.01 L909.39,493.97 L910.12,493.92 L910.84,493.87 L911.57,493.83 L912.29,493.77 L913.02,493.72 L913.75,493.67 L914.47,493.61 L915.2,493.55 L915.92,493.49 L916.65,493.43 L917.37,493.37 L918.1,493.3 L918.83,493.24 L919.55,493.17 L920.28,493.09 L921,493.02 L921.73,492.94 L922.45,492.87 L923.18,492.78 L923.9,492.7 L924.63,492.61 L925.36,492.53 L926.08,492.43 L926.81,492.34 L927.53,492.24 L928.26,492.14 L928.98,492.04 L929.71,491.94 L930.44,491.83 L931.16,491.72 L931.89,491.6 L932.61,491.48 L933.34,491.36 L934.06,491.24 L934.79,491.11 L935.51,490.98 L936.24,490.84 L936.97,490.7 L937.69,490.56 L938.42,490.42 L939.14,490.27 L939.87,490.11 L940.59,489.95 L941.32,489.79 L942.05,489.62 L942.77,489.45 L943.5,489.28 L944.22,489.1 L944.95,488.91 L945.67,488.72 L946.4,488.53 L947.12,488.33 L947.85,488.13 L948.58,487.92 L949.3,487.71 L950.03,487.49 L950.75,487.26 L951.48,487.04 L952.2,486.8 L952.93,486.56 L953.66,486.32 L954.38,486.07 L955.11,485.81 L955.83,485.55 L956.56,485.28 L957.28,485 L958.01,484.72 L958.74,484.44 L959.46,484.14 L960.19,483.84 L960.91,483.54 L961.64,483.23 L962.36,482.91 L963.09,482.58 L963.81,482.25 L964.54,481.91 L965.27,481.57 L965.99,481.22 L966.72,480.86 L967.44,480.49 L968.17,480.12 L968.89,479.73 L969.62,479.35 L970.35,478.95 L971.07,478.55 L971.8,478.14 L972.52,477.72 L973.25,477.29 L973.97,476.86 L974.7,476.42 L975.42,475.97 L976.15,475.51 L976.88,475.05 L977.6,474.58 L978.33,474.1 L979.05,473.61 L979.78,473.11 L980.5,472.61 L981.23,472.09 L981.96,471.57 L982.68,471.04 L983.41,470.5 L984.13,469.96 L984.86,469.4 L985.58,468.84 L986.31,468.27 L987.03,467.69 L987.76,467.1 L988.49,466.51 L989.21,465.9 L989.94,465.29 L990.66,464.67 L991.39,464.04 L992.11,463.4 L992.84,462.76 L993.57,462.1 L994.29,461.44 L995.02,460.77 L995.74,460.09 L996.47,459.4 L997.19,458.71 L997.92,458.01 L998.64,457.29 L999.37,456.58 L1000.1,455.85 L1000.82,455.11 L1001.55,454.37 L1002.27,453.62 L1003,452.86 L1003.72,452.1 L1004.45,451.33 L1005.17,450.54 L1005.9,449.76 L1006.63,448.96 L1007.35,448.16 L1008.08,447.35 L1008.8,446.54 L1009.53,445.72 L1010.25,444.89 L1010.98,444.05 L1011.71,443.21 L1012.43,442.37 L1013.16,441.51 L1013.88,440.65 L1014.61,439.79 L1015.33,438.92 L1016.06,438.04 L1016.78,437.16 L1017.51,436.28 L1018.24,435.39 L1018.96,434.49 L1019.69,433.6 L1020.41,432.69 L1021.14,431.79 L1021.86,430.87 L1022.59,429.96 L1023.32,429.04 L1024.04,428.12 L1024.77,427.2 L1025.49,426.27 L1026.22,425.34 L1026.94,424.41 L1027.67,423.48 L1028.39,422.55 L1029.12,421.61 L1029.85,420.67 L1030.57,419.73 L1031.3,418.8 L1032.02,417.86 L1032.75,416.92 L1033.47,415.98 L1034.2,415.04 L1034.93,414.1 L1035.65,413.17 L1036.38,412.23 L1037.1,411.3 L1037.83,410.37 L1038.55,409.44 L1039.28,408.51 L1040.01,407.59 L1040.73,406.67 L1041.46,405.75 L1042.18,404.83 L1042.91,403.92 L1043.63,403.02 L1044.36,402.12 L1045.08,401.22 L1045.81,400.33 L1046.54,399.45 L1047.26,398.57 L1047.99,397.69 L1048.71,396.83 L1049.44,395.97 L1050.16,395.11 L1050.89,394.27 L1051.62,393.43 L1052.34,392.6 L1053.07,391.78 L1053.79,390.97 L1054.52,390.17 L1055.24,389.37 L1055.97,388.59 L1056.69,387.81 L1057.42,387.05 L1058.15,386.29 L1058.87,385.55 L1059.6,384.82 L1060.32,384.1 L1061.05,383.39 L1061.77,382.69 L1062.5,382.01 L1063.22,381.33 L1063.95,380.67 L1064.68,380.03 L1065.4,379.39 L1066.13,378.77 L1066.85,378.17 L1067.58,377.58 L1068.3,377 L1069.03,376.44 L1069.76,375.89 L1070.48,375.35 L1071.21,374.84 L1071.93,374.33 L1072.66,373.85 L1073.38,373.37 L1074.11,372.92 L1074.84,372.48 L1075.56,372.06 L1076.29,371.65 L1077.01,371.26 L1077.74,370.89 L1078.46,370.53 L1079.19,370.2 L1079.91,369.88 L1080.64,369.57 L1081.37,369.29 L1082.09,369.02 L1082.82,368.77 L1083.54,368.54 L1084.27,368.33 L1084.99,368.13 L1085.72,367.96 L1086.44,367.8 L1087.17,367.66 L1087.9,367.54 L1088.62,367.43 L1089.35,367.35 L1090.07,367.28 L1090.8,367.24 L1091.52,367.21 L1092.25,367.2 L1092.98,367.21 L1093.7,367.24 L1094.43,367.28 L1095.15,367.35 L1095.88,367.43 L1096.6,367.54 L1097.33,367.66 L1098.06,367.8 L1098.78,367.96 L1099.51,368.13 L1100.23,368.33 L1100.96,368.54 L1101.68,368.77 L1102.41,369.02 L1103.13,369.29 L1103.86,369.57 L1104.59,369.88 L1105.31,370.2 L1106.04,370.53 L1106.76,370.89 L1107.49,371.26 L1108.21,371.65 L1108.94,372.06 L1109.66,372.48 L1110.39,372.92 L1111.12,373.37 L1111.84,373.85 L1112.57,374.33 L1113.29,374.84 L1114.02,375.35 L1114.74,375.89 L1115.47,376.44 L1116.2,377 L1116.92,377.58 L1117.65,378.17 L1118.37,378.77 L1119.1,379.39 L1119.82,380.03 L1120.55,380.67 L1121.28,381.33 L1122,382.01 L1122.73,382.69 L1123.45,383.39 L1124.18,384.1 L1124.9,384.82 L1125.63,385.55 L1126.35,386.29 L1127.08,387.05 L1127.81,387.81 L1128.53,388.59 L1129.26,389.37 L1129.98,390.17 L1130.71,390.97 L1131.43,391.78 L1132.16,392.6 L1132.88,393.43 L1133.61,394.27 L1134.34,395.11 L1135.06,395.97 L1135.79,396.83 L1136.51,397.69 L1137.24,398.57 L1137.96,399.45 L1138.69,400.33 L1139.42,401.22 L1140.14,402.12 L1140.87,403.02 L1141.59,403.92 L1142.32,404.83 L1143.04,405.75 L1143.77,406.67 L1144.49,407.59 L1145.22,408.51 L1145.95,409.44 L1146.67,410.37 L1147.4,411.3 L1148.12,412.23 L1148.85,413.17 L1149.57,414.1 L1150.3,415.04 L1151.03,415.98 L1151.75,416.92 L1152.48,417.86 L1153.2,418.8 L1153.93,419.73 L1154.65,420.67 L1155.38,421.61 L1156.11,422.55 L1156.83,423.48 L1157.56,424.41 L1158.28,425.34 L1159.01,426.27 L1159.73,427.2 L1160.46,428.12 L1161.18,429.04 L1161.91,429.96 L1162.64,430.87 L1163.36,431.79 L1164.09,432.69 L1164.81,433.6 L1165.54,434.49 L1166.26,435.39 L1166.99,436.28 L1167.71,437.16 L1168.44,438.04 L1169.17,438.92 L1169.89,439.79 L1170.62,440.65 L1171.34,441.51 L1172.07,442.37 L1172.79,443.21 L1173.52,444.05 L1174.25,444.89 L1174.97,445.72 L1175.7,446.54 L1176.42,447.35 L1177.15,448.16 L1177.87,448.96 L1178.6,449.76 L1179.33,450.54 L1180.05,451.33 L1180.78,452.1 L1181.5,452.86 L1182.23,453.62 L1182.95,454.37 L1183.68,455.11 L1184.4,455.85 L1185.13,456.58 L1185.86,457.29 L1186.58,458.01 L1187.31,458.71 L1188.03,459.4 L1188.76,460.09 L1189.48,460.77 L1190.21,461.44 L1190.93,462.1 L1191.66,462.76 L1192.39,463.4 L1193.11,464.04 L1193.84,464.67 L1194.56,465.29 L1195.29,465.9 L1196.01,466.51 L1196.74,467.1 L1197.47,467.69 L1198.19,468.27 L1198.92,468.84 L1199.64,469.4 L1200.37,469.96 L1201.09,470.5 L1201.82,471.04 L1202.55,471.57 L1203.27,472.09 L1204,472.61 L1204.72,473.11 L1205.45,473.61 L1206.17,474.1 L1206.9,474.58 L1207.62,475.05 L1208.35,475.51 L1209.08,475.97 L1209.8,476.42 L1210.53,476.86 L1211.25,477.29 L1211.98,477.72 L1212.7,478.14 L1213.43,478.55 L1214.15,478.95 L1214.88,479.35 L1215.61,479.73 L1216.33,480.12 L1217.06,480.49 L1217.78,480.86 L1218.51,481.22 L1219.23,481.57 L1219.96,481.91 L1220.69,482.25 L1221.41,482.58 L1222.14,482.91 L1222.86,483.23 L1223.59,483.54 L1224.31,483.84 L1225.04,484.14 L1225.76,484.44 L1226.49,484.72 L1227.22,485 L1227.94,485.28 L1228.67,485.55 L1229.39,485.81 L1230.12,486.07 L1230.84,486.32 L1231.57,486.56 L1232.3,486.8 L1233.02,487.04 L1233.75,487.26 L1234.47,487.49 L1235.2,487.71 L1235.92,487.92 L1236.65,488.13 L1237.38,488.33 L1238.1,488.53 L1238.83,488.72 L1239.55,488.91 L1240.28,489.1 L1241,489.28 L1241.73,489.45 L1242.45,489.62 L1243.18,489.79 L1243.91,489.95 L1244.63,490.11 L1245.36,490.27 L1246.08,490.42 L1246.81,490.56 L1247.53,490.7 L1248.26,490.84 L1248.99,490.98 L1249.71,491.11 L1250.44,491.24 L1251.16,491.36 L1251.89,491.48 L1252.61,491.6 L1253.34,491.72 L1254.06,491.83 L1254.79,491.94 L1255.52,492.04 L1256.24,492.14 L1256.97,492.24 L1257.69,492.34 L1258.42,492.43 L1259.14,492.53 L1259.87,492.61 L1260.6,492.7 L1261.32,492.78 L1262.05,492.87 L1262.77,492.94 L1263.5,493.02 L1264.22,493.09 L1264.95,493.17 L1265.67,493.24 L1266.4,493.3 L1267.13,493.37 L1267.85,493.43 L1268.58,493.49 L1269.3,493.55 L1270.03,493.61 L1270.75,493.67 L1271.48,493.72 L1272.2,493.77 L1272.93,493.83 L1273.66,493.87 L1274.38,493.92 L1275.11,493.97 L1275.83,494.01 L1276.56,494.06 L1277.28,494.1 L1278.01,494.14 L1278.74,494.18 L1279.46,494.22 L1280.19,494.25 L1280.91,494.29 L1281.64,494.32 L1282.36,494.35 L1283.09,494.39 L1283.82,494.42 L1284.54,494.45 L1285.27,494.48 L1285.99,494.5 L1286.72,494.53 L1287.44,494.56 L1288.17,494.58 L1288.89,494.6 L1289.62,494.63 L1290.35,494.65 L1291.07,494.67 L1291.8,494.69 L1292.52,494.71 L1293.25,494.73 L1293.97,494.75 L1294.7,494.77 L1295.42,494.79 L1296.15,494.8 L1296.88,494.82 L1297.6,494.83 L1298.33,494.85 L1299.05,494.86 L1299.78,494.88 L1300.5,494.89 L1301.23,494.9 L1301.96,494.92 L1302.68,494.93 L1303.41,494.94 L1304.13,494.95 L1304.86,494.96 L1305.58,494.97 L1306.31,494.98 L1307.04,494.99 L1307.76,495 L1308.49,495.01 L1309.21,495.01 L1309.94,495.02 L1310.66,495.03 L1311.39,495.04 L1312.11,495.04 L1312.84,495.05 L1313.57,495.06 L1314.29,495.06 L1315.02,495.07 L1315.74,495.08 L1316.47,495.08 L1317.19,495.09 L1317.92,495.09 L1318.64,495.1 L1319.37,495.1 L1320.1,495.11 L1320.82,495.11 L1321.55,495.11 L1322.27,495.12 L1323,495.12 L1323.72,495.12 L1324.45,495.13 L1325.18,495.13 L1325.9,495.13 L1326.63,495.14 L1327.35,495.14 L1328.08,495.14 L1328.8,495.15 L1329.53,495.15 L1330.26,495.15 L1330.98,495.15 L1331.71,495.16 L1332.43,495.16 L1333.16,495.16 L1333.88,495.16 L1334.61,495.16 L1335.33,495.17 L1336.06,495.17 L1336.79,495.17 L1337.51,495.17 L1338.24,495.17 L1338.96,495.17 L1339.69,495.17 L1340.41,495.18 L1341.14,495.18 L1341.87,495.18 L1342.59,495.18 L1343.32,495.18 L1344.04,495.18 L1344.77,495.18 L1345.49,495.18 L1346.22,495.18 L1346.94,495.18 L1347.67,495.19 L1348.4,495.19 L1349.12,495.19 L1349.85,495.19 L1350.57,495.19 L1351.3,495.19 L1352.02,495.19 L1352.75,495.19 L1353.47,495.19 L1354.2,495.19 L1354.93,495.19 L1355.65,495.19 L1356.38,495.19 L1357.1,495.19 L1357.83,495.19 L1358.55,495.19 L1359.28,495.19 L1360.01,495.19 L1360.73,495.19 L1361.46,495.19 L1362.18,495.19 L1362.91,495.2 L1363.63,495.2 L1364.36,495.2 L1365.09,495.2 L1365.81,495.2 L1366.54,495.2 L1367.26,495.2 L1367.99,495.2 L1368.71,495.2 L1369.44,495.2 L1370.16,495.2 L1370.89,495.2 L1371.62,495.2 L1372.34,495.2 L1373.07,495.2 L1373.79,495.2 L1374.52,495.2 L1375.24,495.2 L1375.97,495.2 L1376.7,495.2 L1377.42,495.2 L1378.15,495.2 L1378.87,495.2 L1379.6,495.2 L1380.32,495.2 L1381.05,495.2 L1381.77,495.2 L1382.5,495.2" stroke="#e00020" stroke-width="3.9" stroke-dasharray="3.9 3.9" stroke-dashoffset="7.57"/>
<path d="M802,488.61 L802.73,488.54 L803.45,488.47 L804.18,488.4 L804.9,488.33 L805.63,488.26 L806.35,488.19 L807.08,488.11 L807.8,488.04 L808.53,487.97 L809.26,487.89 L809.98,487.82 L810.71,487.74 L811.43,487.67 L812.16,487.59 L812.88,487.51 L813.61,487.44 L814.34,487.36 L815.06,487.28 L815.79,487.2 L816.51,487.12 L817.24,487.04 L817.96,486.96 L818.69,486.88 L819.41,486.79 L820.14,486.71 L820.87,486.63 L821.59,486.54 L822.32,486.46 L823.04,486.37 L823.77,486.29 L824.49,486.2 L825.22,486.11 L825.95,486.03 L826.67,485.94 L827.4,485.85 L828.12,485.76 L828.85,485.67 L829.57,485.58 L830.3,485.49 L831.02,485.4 L831.75,485.3 L832.48,485.21 L833.2,485.12 L833.93,485.02 L834.65,484.93 L835.38,484.83 L836.1,484.74 L836.83,484.64 L837.56,484.54 L838.28,484.44 L839.01,484.35 L839.73,484.25 L840.46,484.15 L841.18,484.05 L841.91,483.95 L842.63,483.84 L843.36,483.74 L844.09,483.64 L844.81,483.53 L845.54,483.43 L846.26,483.33 L846.99,483.22 L847.71,483.11 L848.44,483.01 L849.17,482.9 L849.89,482.79 L850.62,482.68 L851.34,482.57 L852.07,482.47 L852.79,482.35 L853.52,482.24 L854.25,482.13 L854.97,482.02 L855.7,481.91 L856.42,481.79 L857.15,481.68 L857.87,481.56 L858.6,481.45 L859.32,481.33 L860.05,481.22 L860.78,481.1 L861.5,480.98 L862.23,480.86 L862.95,480.74 L863.68,480.63 L864.4,480.5 L865.13,480.38 L865.86,480.26 L866.58,480.14 L867.31,480.02 L868.03,479.9 L868.76,479.77 L869.48,479.65 L870.21,479.52 L870.93,479.4 L871.66,479.27 L872.39,479.14 L873.11,479.02 L873.84,478.89 L874.56,478.76 L875.29,478.63 L876.01,478.5 L876.74,478.37 L877.47,478.24 L878.19,478.11 L878.92,477.98 L879.64,477.84 L880.37,477.71 L881.09,477.58 L881.82,477.44 L882.54,477.31 L883.27,477.17 L884,477.04 L884.72,476.9 L885.45,476.76 L886.17,476.63 L886.9,476.49 L887.62,476.35 L888.35,476.21 L889.08,476.07 L889.8,475.93 L890.53,475.79 L891.25,475.65 L891.98,475.51 L892.7,475.37 L893.43,475.22 L894.15,475.08 L894.88,474.94 L895.61,474.79 L896.33,474.65 L897.06,474.5 L897.78,474.36 L898.51,474.21 L899.23,474.06 L899.96,473.92 L900.68,473.77 L901.41,473.62 L902.14,473.47 L902.86,473.32 L903.59,473.17 L904.31,473.02 L905.04,472.87 L905.76,472.72 L906.49,472.57 L907.22,472.42 L907.94,472.27 L908.67,472.12 L909.39,471.96 L910.12,471.81 L910.84,471.66 L911.57,471.5 L912.29,471.35 L913.02,471.2 L913.75,471.04 L914.47,470.88 L915.2,470.73 L915.92,470.57 L916.65,470.42 L917.37,470.26 L918.1,470.1 L918.83,469.95 L919.55,469.79 L920.28,469.63 L921,469.47 L921.73,469.31 L922.45,469.15 L923.18,468.99 L923.9,468.83 L924.63,468.67 L925.36,468.51 L926.08,468.35 L926.81,468.19 L927.53,468.03 L928.26,467.87 L928.98,467.71 L929.71,467.55 L930.44,467.39 L931.16,467.22 L931.89,467.06 L932.61,466.9 L933.34,466.74 L934.06,466.57 L934.79,466.41 L935.51,466.25 L936.24,466.08 L936.97,465.92 L937.69,465.76 L938.42,465.59 L939.14,465.43 L939.87,465.27 L940.59,465.1 L941.32,464.94 L942.05,464.77 L942.77,464.61 L943.5,464.44 L944.22,464.28 L944.95,464.11 L945.67,463.95 L946.4,463.78 L947.12,463.62 L947.85,463.45 L948.58,463.29 L949.3,463.12 L950.03,462.96 L950.75,462.79 L951.48,462.63 L952.2,462.46 L952.93,462.3 L953.66,462.13 L954.38,461.97 L955.11,461.8 L955.83,461.64 L956.56,461.48 L957.28,461.31 L958.01,461.15 L958.74,460.98 L959.46,460.82 L960.19,460.65 L960.91,460.49 L961.64,460.32 L962.36,460.16 L963.09,460 L963.81,459.83 L964.54,459.67 L965.27,459.51 L965.99,459.34 L966.72,459.18 L967.44,459.02 L968.17,458.86 L968.89,458.69 L969.62,458.53 L970.35,458.37 L971.07,458.21 L971.8,458.05 L972.52,457.89 L973.25,457.73 L973.97,457.57 L974.7,457.41 L975.42,457.25 L976.15,457.09 L976.88,456.93 L977.6,456.77 L978.33,456.61 L979.05,456.45 L979.78,456.29 L980.5,456.14 L981.23,455.98 L981.96,455.82 L982.68,455.67 L983.41,455.51 L984.13,455.36 L984.86,455.2 L985.58,455.05 L986.31,454.89 L987.03,454.74 L987.76,454.59 L988.49,454.44 L989.21,454.28 L989.94,454.13 L990.66,453.98 L991.39,453.83 L992.11,453.68 L992.84,453.53 L993.57,453.38 L994.29,453.23 L995.02,453.09 L995.74,452.94 L996.47,452.79 L997.19,452.65 L997.92,452.5 L998.64,452.36 L999.37,452.21 L1000.1,452.07 L1000.82,451.93 L1001.55,451.79 L1002.27,451.64 L1003,451.5 L1003.72,451.36 L1004.45,451.22 L1005.17,451.09 L1005.9,450.95 L1006.63,450.81 L1007.35,450.67 L1008.08,450.54 L1008.8,450.4 L1009.53,450.27 L1010.25,450.14 L1010.98,450 L1011.71,449.87 L1012.43,449.74 L1013.16,449.61 L1013.88,449.48 L1014.61,449.35 L1015.33,449.22 L1016.06,449.1 L1016.78,448.97 L1017.51,448.85 L1018.24,448.72 L1018.96,448.6 L1019.69,448.48 L1020.41,448.36 L1021.14,448.23 L1021.86,448.12 L1022.59,448 L1023.32,447.88 L1024.04,447.76 L1024.77,447.65 L1025.49,447.53 L1026.22,447.42 L1026.94,447.3 L1027.67,447.19 L1028.39,447.08 L1029.12,446.97 L1029.85,446.86 L1030.57,446.75 L1031.3,446.65 L1032.02,446.54 L1032.75,446.44 L1033.47,446.33 L1034.2,446.23 L1034.93,446.13 L1035.65,446.03 L1036.38,445.93 L1037.1,445.83 L1037.83,445.73 L1038.55,445.63 L1039.28,445.54 L1040.01,445.44 L1040.73,445.35 L1041.46,445.26 L1042.18,445.17 L1042.91,445.08 L1043.63,444.99 L1044.36,444.9 L1045.08,444.82 L1045.81,444.73 L1046.54,444.65 L1047.26,444.57 L1047.99,444.49 L1048.71,444.41 L1049.44,444.33 L1050.16,444.25 L1050.89,444.17 L1051.62,444.1 L1052.34,444.02 L1053.07,443.95 L1053.79,443.88 L1054.52,443.81 L1055.24,443.74 L1055.97,443.67 L1056.69,443.6 L1057.42,443.54 L1058.15,443.47 L1058.87,443.41 L1059.6,443.35 L1060.32,443.29 L1061.05,443.23 L1061.77,443.17 L1062.5,443.12 L1063.22,443.06 L1063.95,443.01 L1064.68,442.95 L1065.4,442.9 L1066.13,442.85 L1066.85,442.81 L1067.58,442.76 L1068.3,442.71 L1069.03,442.67 L1069.76,442.62 L1070.48,442.58 L1071.21,442.54 L1071.93,442.5 L1072.66,442.46 L1073.38,442.43 L1074.11,442.39 L1074.84,442.36 L1075.56,442.33 L1076.29,442.3 L1077.01,442.27 L1077.74,442.24 L1078.46,442.21 L1079.19,442.19 L1079.91,442.16 L1080.64,442.14 L1081.37,442.12 L1082.09,442.1 L1082.82,442.08 L1083.54,442.06 L1084.27,442.04 L1084.99,442.03 L1085.72,442.02 L1086.44,442.01 L1087.17,441.99 L1087.9,441.99 L1088.62,441.98 L1089.35,441.97 L1090.07,441.97 L1090.8,441.96 L1091.52,441.96 L1092.25,441.96 L1092.98,441.96 L1093.7,441.96 L1094.43,441.97 L1095.15,441.97 L1095.88,441.98 L1096.6,441.99 L1097.33,441.99 L1098.06,442.01 L1098.78,442.02 L1099.51,442.03 L1100.23,442.04 L1100.96,442.06 L1101.68,442.08 L1102.41,442.1 L1103.13,442.12 L1103.86,442.14 L1104.59,442.16 L1105.31,442.19 L1106.04,442.21 L1106.76,442.24 L1107.49,442.27 L1108.21,442.3 L1108.94,442.33 L1109.66,442.36 L1110.39,442.39 L1111.12,442.43 L1111.84,442.46 L1112.57,442.5 L1113.29,442.54 L1114.02,442.58 L1114.74,442.62 L1115.47,442.67 L1116.2,442.71 L1116.92,442.76 L1117.65,442.81 L1118.37,442.85 L1119.1,442.9 L1119.82,442.95 L1120.55,443.01 L1121.28,443.06 L1122,443.12 L1122.73,443.17 L1123.45,443.23 L1124.18,443.29 L1124.9,443.35 L1125.63,443.41 L1126.35,443.47 L1127.08,443.54 L1127.81,443.6 L1128.53,443.67 L1129.26,443.74 L1129.98,443.81 L1130.71,443.88 L1131.43,443.95 L1132.16,444.02 L1132.88,444.1 L1133.61,444.17 L1134.34,444.25 L1135.06,444.33 L1135.79,444.41 L1136.51,444.49 L1137.24,444.57 L1137.96,444.65 L1138.69,444.73 L1139.42,444.82 L1140.14,444.9 L1140.87,444.99 L1141.59,445.08 L1142.32,445.17 L1143.04,445.26 L1143.77,445.35 L1144.49,445.44 L1145.22,445.54 L1145.95,445.63 L1146.67,445.73 L1147.4,445.83 L1148.12,445.93 L1148.85,446.03 L1149.57,446.13 L1150.3,446.23 L1151.03,446.33 L1151.75,446.44 L1152.48,446.54 L1153.2,446.65 L1153.93,446.75 L1154.65,446.86 L1155.38,446.97 L1156.11,447.08 L1156.83,447.19 L1157.56,447.3 L1158.28,447.42 L1159.01,447.53 L1159.73,447.65 L1160.46,447.76 L1161.18,447.88 L1161.91,448 L1162.64,448.12 L1163.36,448.23 L1164.09,448.36 L1164.81,448.48 L1165.54,448.6 L1166.26,448.72 L1166.99,448.85 L1167.71,448.97 L1168.44,449.1 L1169.17,449.22 L1169.89,449.35 L1170.62,449.48 L1171.34,449.61 L1172.07,449.74 L1172.79,449.87 L1173.52,450 L1174.25,450.14 L1174.97,450.27 L1175.7,450.4 L1176.42,450.54 L1177.15,450.67 L1177.87,450.81 L1178.6,450.95 L1179.33,451.09 L1180.05,451.22 L1180.78,451.36 L1181.5,451.5 L1182.23,451.64 L1182.95,451.79 L1183.68,451.93 L1184.4,452.07 L1185.13,452.21 L1185.86,452.36 L1186.58,452.5 L1187.31,452.65 L1188.03,452.79 L1188.76,452.94 L1189.48,453.09 L1190.21,453.23 L1190.93,453.38 L1191.66,453.53 L1192.39,453.68 L1193.11,453.83 L1193.84,453.98 L1194.56,454.13 L1195.29,454.28 L1196.01,454.44 L1196.74,454.59 L1197.47,454.74 L1198.19,454.89 L1198.92,455.05 L1199.64,455.2 L1200.37,455.36 L1201.09,455.51 L1201.82,455.67 L1202.55,455.82 L1203.27,455.98 L1204,456.14 L1204.72,456.29 L1205.45,456.45 L1206.17,456.61 L1206.9,456.77 L1207.62,456.93 L1208.35,457.09 L1209.08,457.25 L1209.8,457.41 L1210.53,457.57 L1211.25,457.73 L1211.98,457.89 L1212.7,458.05 L1213.43,458.21 L1214.15,458.37 L1214.88,458.53 L1215.61,458.69 L1216.33,458.86 L1217.06,459.02 L1217.78,459.18 L1218.51,459.34 L1219.23,459.51 L1219.96,459.67 L1220.69,459.83 L1221.41,460 L1222.14,460.16 L1222.86,460.32 L1223.59,460.49 L1224.31,460.65 L1225.04,460.82 L1225.76,460.98 L1226.49,461.15 L1227.22,461.31 L1227.94,461.48 L1228.67,461.64 L1229.39,461.8 L1230.12,461.97 L1230.84,462.13 L1231.57,462.3 L1232.3,462.46 L1233.02,462.63 L1233.75,462.79 L1234.47,462.96 L1235.2,463.12 L1235.92,463.29 L1236.65,463.45 L1237.38,463.62 L1238.1,463.78 L1238.83,463.95 L1239.55,464.11 L1240.28,464.28 L1241,464.44 L1241.73,464.61 L1242.45,464.77 L1243.18,464.94 L1243.91,465.1 L1244.63,465.27 L1245.36,465.43 L1246.08,465.59 L1246.81,465.76 L1247.53,465.92 L1248.26,466.08 L1248.99,466.25 L1249.71,466.41 L1250.44,466.57 L1251.16,466.74 L1251.89,466.9 L1252.61,467.06 L1253.34,467.22 L1254.06,467.39 L1254.79,467.55 L1255.52,467.71 L1256.24,467.87 L1256.97,468.03 L1257.69,468.19 L1258.42,468.35 L1259.14,468.51 L1259.87,468.67 L1260.6,468.83 L1261.32,468.99 L1262.05,469.15 L1262.77,469.31 L1263.5,469.47 L1264.22,469.63 L1264.95,469.79 L1265.67,469.95 L1266.4,470.1 L1267.13,470.26 L1267.85,470.42 L1268.58,470.57 L1269.3,470.73 L1270.03,470.88 L1270.75,471.04 L1271.48,471.2 L1272.2,471.35 L1272.93,471.5 L1273.66,471.66 L1274.38,471.81 L1275.11,471.96 L1275.83,472.12 L1276.56,472.27 L1277.28,472.42 L1278.01,472.57 L1278.74,472.72 L1279.46,472.87 L1280.19,473.02 L1280.91,473.17 L1281.64,473.32 L1282.36,473.47 L1283.09,473.62 L1283.82,473.77 L1284.54,473.92 L1285.27,474.06 L1285.99,474.21 L1286.72,474.36 L1287.44,474.5 L1288.17,474.65 L1288.89,474.79 L1289.62,474.94 L1290.35,475.08 L1291.07,475.22 L1291.8,475.37 L1292.52,475.51 L1293.25,475.65 L1293.97,475.79 L1294.7,475.93 L1295.42,476.07 L1296.15,476.21 L1296.88,476.35 L1297.6,476.49 L1298.33,476.63 L1299.05,476.76 L1299.78,476.9 L1300.5,477.04 L1301.23,477.17 L1301.96,477.31 L1302.68,477.44 L1303.41,477.58 L1304.13,477.71 L1304.86,477.84 L1305.58,477.98 L1306.31,478.11 L1307.04,478.24 L1307.76,478.37 L1308.49,478.5 L1309.21,478.63 L1309.94,478.76 L1310.66,478.89 L1311.39,479.02 L1312.11,479.14 L1312.84,479.27 L1313.57,479.4 L1314.29,479.52 L1315.02,479.65 L1315.74,479.77 L1316.47,479.9 L1317.19,480.02 L1317.92,480.14 L1318.64,480.26 L1319.37,480.38 L1320.1,480.5 L1320.82,480.63 L1321.55,480.74 L1322.27,480.86 L1323,480.98 L1323.72,481.1 L1324.45,481.22 L1325.18,481.33 L1325.9,481.45 L1326.63,481.56 L1327.35,481.68 L1328.08,481.79 L1328.8,481.91 L1329.53,482.02 L1330.26,482.13 L1330.98,482.24 L1331.71,482.35 L1332.43,482.47 L1333.16,482.57 L1333.88,482.68 L1334.61,482.79 L1335.33,482.9 L1336.06,483.01 L1336.79,483.11 L1337.51,483.22 L1338.24,483.33 L1338.96,483.43 L1339.69,483.53 L1340.41,483.64 L1341.14,483.74 L1341.87,483.84 L1342.59,483.95 L1343.32,484.05 L1344.04,484.15 L1344.77,484.25 L1345.49,484.35 L1346.22,484.44 L1346.94,484.54 L1347.67,484.64 L1348.4,484.74 L1349.12,484.83 L1349.85,484.93 L1350.57,485.02 L1351.3,485.12 L1352.02,485.21 L1352.75,485.3 L1353.47,485.4 L1354.2,485.49 L1354.93,485.58 L1355.65,485.67 L1356.38,485.76 L1357.1,485.85 L1357.83,485.94 L1358.55,486.03 L1359.28,486.11 L1360.01,486.2 L1360.73,486.29 L1361.46,486.37 L1362.18,486.46 L1362.91,486.54 L1363.63,486.63 L1364.36,486.71 L1365.09,486.79 L1365.81,486.88 L1366.54,486.96 L1367.26,487.04 L1367.99,487.12 L1368.71,487.2 L1369.44,487.28 L1370.16,487.36 L1370.89,487.44 L1371.62,487.51 L1372.34,487.59 L1373.07,487.67 L1373.79,487.74 L1374.52,487.82 L1375.24,487.89 L1375.97,487.97 L1376.7,488.04 L1377.42,488.11 L1378.15,488.19 L1378.87,488.26 L1379.6,488.33 L1380.32,488.4 L1381.05,488.47 L1381.77,488.54 L1382.5,488.61" stroke="#22c0c0" stroke-width="3.5" stroke-dasharray="15.1 4.5 7 4.53" stroke-dashoffset="30.19"/>
</g>
<g font-size="18.5" font-weight="bold" fill="#000">
<text x="802" y="521.5" text-anchor="middle">-0.2</text>
<text x="874.56" y="521.5" text-anchor="middle">-0.15</text>
<text x="947.12" y="521.5" text-anchor="middle">-0.1</text>
<text x="1019.69" y="521.5" text-anchor="middle">-0.05</text>
<text x="1092.25" y="521.5" text-anchor="middle">0</text>
<text x="1164.81" y="521.5" text-anchor="middle">0.05</text>
<text x="1237.38" y="521.5" text-anchor="middle">0.1</text>
<text x="1309.94" y="521.5" text-anchor="middle">0.15</text>
<text x="1382.5" y="521.5" text-anchor="middle">0.2</text>
<text x="794" y="502.6" text-anchor="end">0</text>
<text x="794" y="437.07" text-anchor="end">500</text>
<text x="794" y="371.54" text-anchor="end">1000</text>
<text x="794" y="306.01" text-anchor="end">1500</text>
<text x="794" y="240.49" text-anchor="end">2000</text>
<text x="794" y="174.96" text-anchor="end">2500</text>
<text x="794" y="109.43" text-anchor="end">3000</text>
<text x="794" y="43.9" text-anchor="end">3500</text>
<text x="1092.5" y="548.9" text-anchor="middle" font-size="19.5">rad</text>
<text transform="translate(744.2,265.8) rotate(-90)" text-anchor="middle" font-size="20.3">counts</text>
<text x="1357" y="18.8" font-size="23">b)</text>
</g>
<text x="1092.5" y="27.3" text-anchor="middle" font-size="20.5" fill="#000">40 MeV</text>
<rect x="1254.3" y="43.9" width="114.4" height="101.3" fill="#fff" stroke="#3a3a3a" stroke-width="1.3"/>
<path d="M1258.3,57.7H1297.4" stroke="#0000f0" stroke-width="3.5"/>
<path d="M1258.3,82H1273.3M1289.5,82H1297.4" stroke="#007a00" stroke-width="3.5"/>
<path d="M1258.2,107.6H1297.4" stroke="#e00020" stroke-width="3.5" stroke-dasharray="3.5 4.3"/>
<path d="M1258.4,132.1H1273.2M1277.5,132.1H1285M1289.3,132.1H1297.4" stroke="#22c0c0" stroke-width="3.5"/>
<g font-size="18" font-weight="bold" fill="#000">
<text x="1300" y="64.6">t=0.011</text>
<text x="1300" y="89.8">t=0.091</text>
<text x="1300" y="115.1">t=0.191</text>
<text x="1300" y="140.3">t=0.991</text>
</g>
</svg></body></html>
